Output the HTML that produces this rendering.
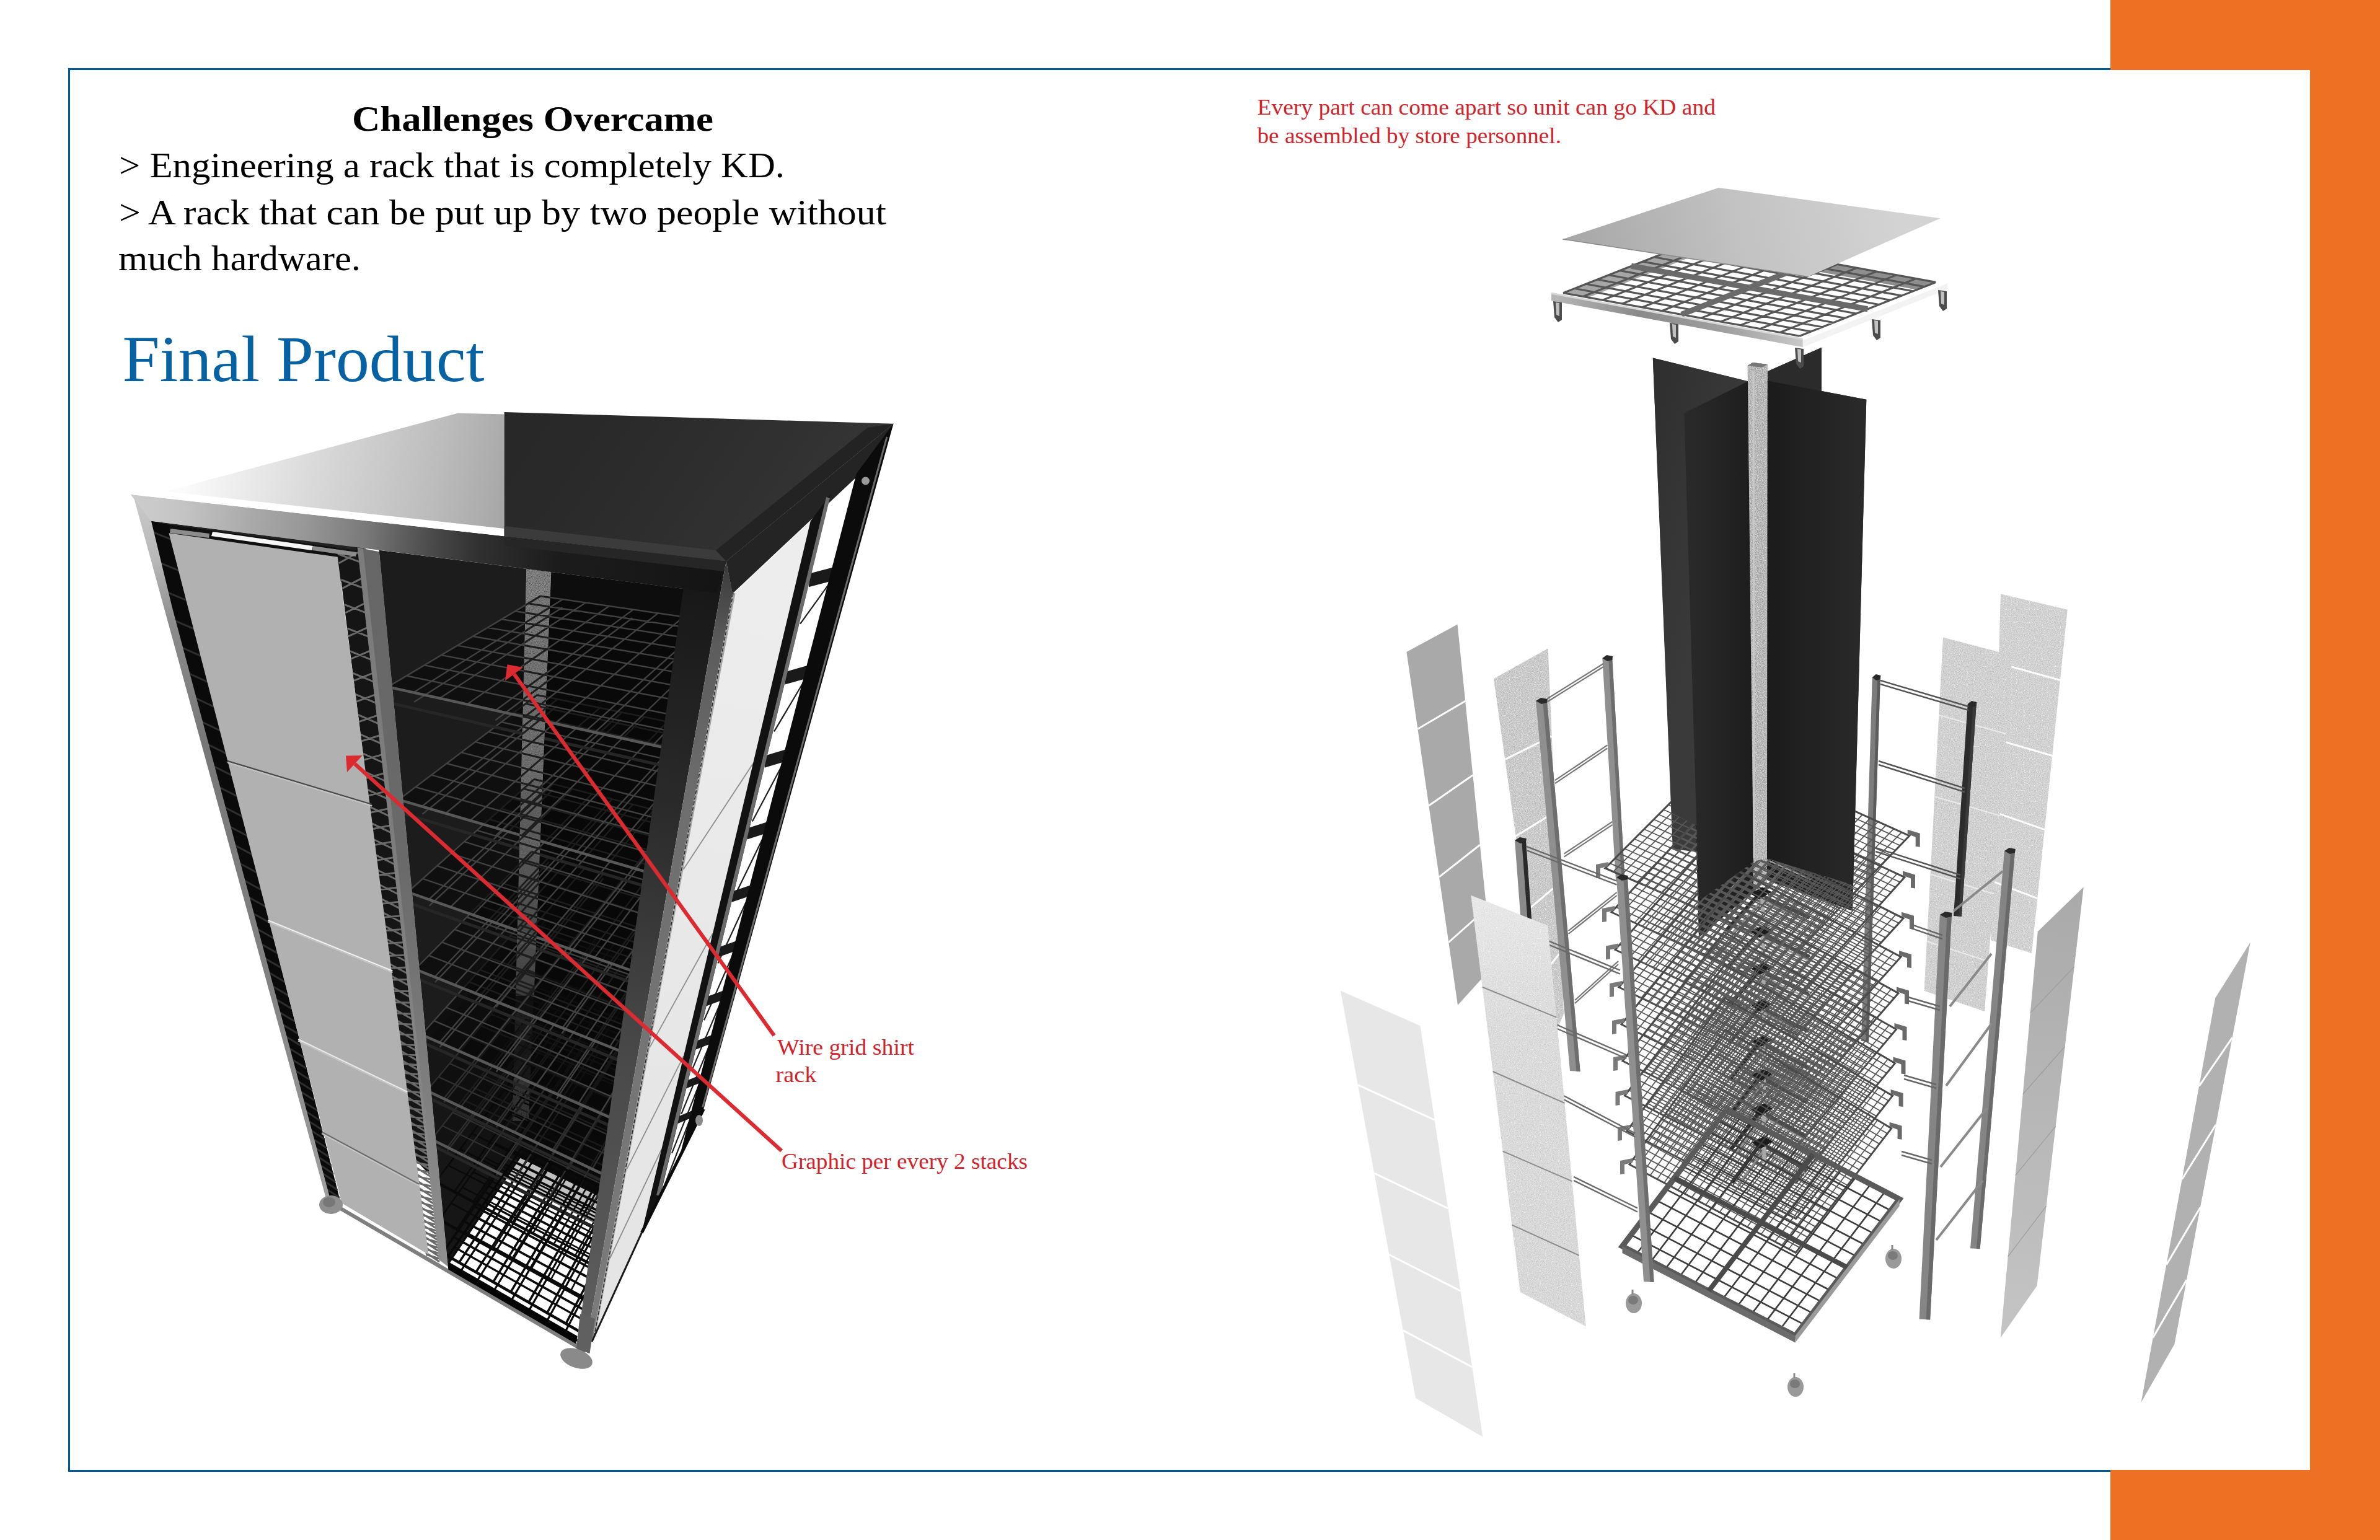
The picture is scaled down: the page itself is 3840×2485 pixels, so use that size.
<!DOCTYPE html>
<html><head><meta charset="utf-8"><title>Final Product</title>
<style>
html,body{margin:0;padding:0;background:#fff;}
body{width:3840px;height:2485px;position:relative;overflow:hidden;font-family:"Liberation Serif",serif;}
#frame{position:absolute;left:110px;top:110px;width:3400px;height:2259px;border:3px solid #005a96;box-sizing:content-box;}
#band{position:absolute;left:3405px;top:0;width:435px;height:2485px;background:#ee7023;}
#panel{position:absolute;left:3405px;top:113px;width:322px;height:2259px;background:#fff;}
svg{position:absolute;left:0;top:0;}
text{font-family:"Liberation Serif",serif;}
</style></head><body>
<div id="frame"></div><div id="band"></div><div id="panel"></div>
<svg width="3840" height="2485" viewBox="0 0 3840 2485">
<defs>
<linearGradient id="gTopL" gradientUnits="userSpaceOnUse" x1="300" y1="760" x2="820" y2="860">
 <stop offset="0" stop-color="#fbfbfb"/><stop offset="0.35" stop-color="#dcdcdc"/><stop offset="0.75" stop-color="#bcbcbc"/><stop offset="1" stop-color="#a4a4a4"/></linearGradient>
<linearGradient id="gTopD" gradientUnits="userSpaceOnUse" x1="900" y1="660" x2="1250" y2="900">
 <stop offset="0" stop-color="#282828"/><stop offset="0.6" stop-color="#2e2e2e"/><stop offset="1" stop-color="#343434"/></linearGradient>
<linearGradient id="gBar" gradientUnits="userSpaceOnUse" x1="211" y1="800" x2="1171" y2="905">
 <stop offset="0" stop-color="#cdcdcd"/><stop offset="0.09" stop-color="#c4c4c4"/><stop offset="0.2" stop-color="#aaaaaa"/><stop offset="0.3" stop-color="#969696"/><stop offset="0.395" stop-color="#7a7a7a"/><stop offset="0.45" stop-color="#626262"/><stop offset="0.51" stop-color="#4a4a4a"/><stop offset="0.59" stop-color="#303030"/><stop offset="0.72" stop-color="#1c1c1c"/><stop offset="1" stop-color="#141414"/></linearGradient>
<linearGradient id="gLpost" gradientUnits="userSpaceOnUse" x1="220" y1="800" x2="530" y2="1940">
 <stop offset="0" stop-color="#cacaca"/><stop offset="0.09" stop-color="#b8b8b8"/><stop offset="0.18" stop-color="#8c8c8c"/><stop offset="0.35" stop-color="#777"/><stop offset="0.7" stop-color="#828282"/><stop offset="1" stop-color="#a0a0a0"/></linearGradient>
<linearGradient id="gMpost" gradientUnits="userSpaceOnUse" x1="590" y1="880" x2="715" y2="2040">
 <stop offset="0" stop-color="#666"/><stop offset="0.45" stop-color="#6a6a6a"/><stop offset="0.75" stop-color="#7e7e7e"/><stop offset="1" stop-color="#909090"/></linearGradient>
<linearGradient id="gCpost" gradientUnits="userSpaceOnUse" x1="1140" y1="920" x2="940" y2="2180">
 <stop offset="0" stop-color="#161616"/><stop offset="0.3" stop-color="#2a2a2a"/><stop offset="0.6" stop-color="#474747"/><stop offset="1" stop-color="#606060"/></linearGradient>
<linearGradient id="gCside" gradientUnits="userSpaceOnUse" x1="1175" y1="910" x2="955" y2="2180"><stop offset="0" stop-color="#3a3a3a"/><stop offset="0.1" stop-color="#5c5c5c"/><stop offset="0.3" stop-color="#6e6e6e"/><stop offset="1" stop-color="#7c7c7c"/></linearGradient>
<linearGradient id="gInt" gradientUnits="userSpaceOnUse" x1="850" y1="900" x2="820" y2="2100">
 <stop offset="0" stop-color="#121212"/><stop offset="0.5" stop-color="#0c0c0c"/><stop offset="1" stop-color="#080808"/></linearGradient>
<linearGradient id="gRpan" gradientUnits="userSpaceOnUse" x1="1250" y1="900" x2="1000" y2="2100">
 <stop offset="0" stop-color="#ededed"/><stop offset="1" stop-color="#e4e4e4"/></linearGradient>
</defs>
<defs><filter id="spk2" x="0" y="0" width="100%" height="100%"><feTurbulence type="fractalNoise" baseFrequency="0.7" numOctaves="1" seed="7" result="n"/>
 <feColorMatrix in="n" type="matrix" values="0 0 0 0 0  0 0 0 0 0  0 0 0 0 0  2.2 0 0 0 -0.9" result="w"/>
 <feComposite in="w" in2="SourceGraphic" operator="in" result="ww"/>
 <feMerge><feMergeNode in="SourceGraphic"/><feMergeNode in="ww"/></feMerge></filter></defs>
<g id="leftrack">
<polygon points="1306.8,925.3 1345.1,915.3 1343.1,937.3 1304.8,947.3" fill="#1a1a1a" />
<line x1="1341.1" y1="937.3" x2="1291.1" y2="1006.6" stroke="#202020" stroke-width="2.2" />
<polygon points="1268.4,1083.6 1304.1,1073.6 1302.1,1094.5 1266.4,1104.5" fill="#1a1a1a" />
<line x1="1300.1" y1="1094.5" x2="1249" y2="1180.4" stroke="#202020" stroke-width="2.2" />
<polygon points="1235.6,1218.9 1269.1,1208.9 1267.1,1228.7 1233.6,1238.7" fill="#1a1a1a" />
<line x1="1265.1" y1="1228.7" x2="1213.8" y2="1325.6" stroke="#202020" stroke-width="2.2" />
<polygon points="1207.3,1335.9 1238.8,1325.9 1236.8,1344.6 1205.3,1354.6" fill="#1a1a1a" />
<line x1="1234.8" y1="1344.6" x2="1183.9" y2="1448.7" stroke="#202020" stroke-width="2.2" />
<polygon points="1182.5,1438.1 1212.3,1428.1 1210.3,1445.7 1180.5,1455.7" fill="#1a1a1a" />
<line x1="1208.3" y1="1445.7" x2="1158.3" y2="1554.4" stroke="#202020" stroke-width="2.2" />
<polygon points="1160.7,1528.1 1189,1518.1 1187,1534.6 1158.7,1544.6" fill="#1a1a1a" />
<line x1="1185" y1="1534.6" x2="1136" y2="1646.2" stroke="#202020" stroke-width="2.2" />
<polygon points="1141.3,1608 1168.4,1598 1166.4,1613.4 1139.3,1623.4" fill="#1a1a1a" />
<line x1="1164.4" y1="1613.4" x2="1116.5" y2="1726.6" stroke="#202020" stroke-width="2.2" />
<polygon points="1124,1679.4 1149.9,1669.4 1147.9,1683.7 1122,1693.7" fill="#1a1a1a" />
<line x1="1145.9" y1="1683.7" x2="1099.3" y2="1797.6" stroke="#202020" stroke-width="2.2" />
<polygon points="1108.4,1743.5 1133.3,1733.5 1131.3,1746.7 1106.4,1756.7" fill="#1a1a1a" />
<line x1="1129.3" y1="1746.7" x2="1084" y2="1860.8" stroke="#202020" stroke-width="2.2" />
<polygon points="1094.4,1801.5 1118.3,1791.5 1116.3,1803.6 1092.4,1813.6" fill="#1a1a1a" />
<line x1="1114.3" y1="1803.6" x2="1070.3" y2="1917.4" stroke="#202020" stroke-width="2.2" />
<clipPath id="cpOpen"><polygon points="611.7,887.9 1111.1,951.2 931.1,2168.3 723.2,2047.5"/></clipPath>
<polygon points="611.7,887.9 1111.1,951.2 931.1,2168.3 723.2,2047.5" fill="#0b0b0b" />
<g clip-path="url(#cpOpen)">
<polygon points="717,2051.2 939.1,2180.9 1045.9,1966.8 840.7,1866.9" fill="#ffffff" />
<polygon points="879.9,737.6 1343.6,766 1047.2,1961.4 840.9,1861.4" fill="#0d0d0d" />
<polygon points="599.9,839.5 879.9,737.6 840.9,1861.4 716.5,2046" fill="#1c1c1c" />
<polygon points="682.1,1690.1 853.6,1496.3 840.9,1861.4 716.5,2046" fill="#121212" opacity="0.6"/>
<polygon points="853.9,737.6 896.9,737.6 852.8,1808.8 826.8,1808.8" fill="#8a8a8a" filter="url(#spk2)"/>
<path d="M714.1 2022L841.8 1835.7M714.1 2022L943.9 2153.6M740.7 2037.2L866.6 1847.4M731.9 1996.1L959.3 2123.2M767.9 2052.8L891.7 1859.4M749 1971L974.1 2093.7M795.7 2068.7L917.4 1871.6M765.7 1946.7L988.4 2065.3M824 2084.9L943.6 1884.1M781.8 1923.2L1002.3 2037.8M853 2101.5L970.3 1896.7M797.5 1900.3L1015.7 2011.2M882.7 2118.5L997.4 1909.6M812.7 1878.2L1028.7 1985.4M913 2135.9L1025.2 1922.8M827.5 1856.6L1041.3 1960.5M943.9 2153.6L1053.4 1936.3M841.8 1835.7L1053.4 1936.3" stroke="#0a0a0a" stroke-width="3.6" fill="none"/>
<line x1="714.1" y1="2022" x2="943.9" y2="2153.6" stroke="#0a0a0a" stroke-width="4.5" />
<path d="M708.9 1968L843.8 1778.6M708.9 1968L953 2102.8M737 1983.5L869.8 1790.4M727.8 1941.5L969.1 2071.4M765.8 1999.4L896.4 1802.4M746 1915.9L984.7 2041.1M795.2 2015.7L923.5 1814.7M763.6 1891.2L999.7 2011.9M825.3 2032.3L951.1 1827.2M780.7 1867.2L1014.2 1983.6M856.1 2049.3L979.3 1840M797.2 1844L1028.2 1956.4M887.6 2066.7L1008.1 1853.1M813.2 1821.5L1041.7 1930.1M919.9 2084.6L1037.4 1866.4M828.7 1799.7L1054.8 1904.6M953 2102.8L1067.4 1880M843.8 1778.6L1067.4 1880" stroke="#0a0a0a" stroke-width="2.6" fill="none"/>
<line x1="708.9" y1="1968" x2="953" y2="2102.8" stroke="#0a0a0a" stroke-width="4.5" />
<path d="M703.1 1907.3L846 1715.3M703.1 1907.3L963.2 2045.1M732.9 1923.1L873.5 1727.1M723.1 1880.3L980.2 2012.7M763.4 1939.2L901.5 1739.1M742.5 1854.2L996.6 1981.5M794.7 1955.8L930.2 1751.4M761.3 1829.1L1012.4 1951.5M826.7 1972.8L959.5 1764M779.4 1804.8L1027.5 1922.6M859.6 1990.2L989.3 1776.8M796.8 1781.3L1042.2 1894.8M893.3 2008L1019.9 1789.9M813.8 1758.6L1056.3 1867.9M927.8 2026.3L1051.1 1803.3M830.1 1736.6L1069.9 1842M963.2 2045.1L1083 1817M846 1715.3L1083 1817" stroke="#0a0a0a" stroke-width="2.6" fill="none"/>
<line x1="703.1" y1="1907.3" x2="963.2" y2="2045.1" stroke="#0a0a0a" stroke-width="4.5" />
<polygon points="696.4,1838.5 975,1978.9 1100.6,1746.2 848.4,1644.7" fill="#080808" opacity="0.25"/>
<path d="M696.4 1838.5L848.4 1644.7M696.4 1838.5L975 1978.9M721.7 1851.3L871.7 1654.1M713.7 1816.5L989.4 1952.1M747.6 1864.3L895.3 1663.6M730.5 1795.1L1003.4 1926.2M774 1877.6L919.4 1673.3M746.7 1774.4L1017 1901.1M800.9 1891.2L943.9 1683.1M762.5 1754.2L1030.1 1876.8M828.4 1905L968.8 1693.2M777.9 1734.7L1042.7 1853.3M856.5 1919.2L994.2 1703.4M792.8 1715.6L1055 1830.6M885.1 1933.6L1020.1 1713.8M807.3 1697.2L1066.9 1808.5M914.4 1948.4L1046.4 1724.4M821.4 1679.2L1078.5 1787.1M944.4 1963.5L1073.2 1735.2M835.1 1661.7L1089.7 1766.3M975 1978.9L1100.6 1746.2M848.4 1644.7L1100.6 1746.2M722.1 1856.8L871.4 1659.7M800.9 1896.6L943.3 1688.7M884.7 1939L1019.1 1719.4" stroke="#2e2e2e" stroke-width="2.4" fill="none"/>
<line x1="696.4" y1="1838.5" x2="975" y2="1978.9" stroke="#585858" stroke-width="4.5" />
<line x1="697.3" y1="1847.9" x2="973.4" y2="1988" stroke="#262626" stroke-width="5" />
<polygon points="688.8,1760 988.6,1902.1 1120.5,1665.8 851.2,1565.5" fill="#080808" opacity="0.5"/>
<path d="M688.8 1760L851.2 1565.5M688.8 1760L988.6 1902.1M715.9 1772.8L875.9 1574.7M707.4 1737.7L1004 1874.6M743.5 1785.9L901 1584.1M725.5 1716.1L1018.8 1848.1M771.8 1799.3L926.7 1593.6M742.9 1695.2L1033 1822.5M800.7 1813L952.8 1603.4M759.8 1675L1046.8 1797.8M830.3 1827L979.4 1613.3M776.2 1655.3L1060.2 1774M860.5 1841.4L1006.5 1623.4M792.1 1636.3L1073 1750.9M891.4 1856L1034.2 1633.7M807.5 1617.8L1085.5 1728.6M923.1 1871L1062.4 1644.2M822.5 1599.9L1097.5 1707M955.4 1886.4L1091.1 1654.9M837.1 1582.5L1109.2 1686.1M988.6 1902.1L1120.5 1665.8M851.2 1565.5L1120.5 1665.8M716.4 1779.1L875.5 1581M800.7 1819.3L952.1 1609.7M890.9 1862.3L1033 1640.1" stroke="#2e2e2e" stroke-width="2.4" fill="none"/>
<line x1="688.8" y1="1760" x2="988.6" y2="1902.1" stroke="#585858" stroke-width="4.5" />
<line x1="689.9" y1="1770.7" x2="986.7" y2="1912.7" stroke="#262626" stroke-width="5" />
<polygon points="680.1,1669.5 1004.6,1812.1 1143.3,1573.9 854.3,1476.1" fill="#080808" opacity="0.62"/>
<path d="M680.1 1669.5L854.3 1476.1M680.1 1669.5L1004.6 1812.1M709.1 1682.3L880.6 1485M700.2 1647.1L1020.9 1784.1M738.9 1695.3L907.5 1494.1M719.7 1625.5L1036.6 1757.1M769.3 1708.7L934.9 1503.4M738.5 1604.6L1051.7 1731.2M800.5 1722.4L962.8 1512.9M756.7 1584.4L1066.3 1706.2M832.4 1736.5L991.4 1522.5M774.3 1564.9L1080.3 1682.1M865.2 1750.8L1020.5 1532.4M791.3 1546L1093.8 1658.9M898.7 1765.6L1050.2 1542.4M807.8 1527.7L1106.8 1636.6M933.1 1780.7L1080.6 1552.7M823.8 1510L1119.4 1615M968.4 1796.2L1111.6 1563.2M839.3 1492.8L1131.5 1594.1M1004.6 1812.1L1143.3 1573.9M854.3 1476.1L1143.3 1573.9M709.7 1689.6L880.3 1492.2M800.5 1729.7L962 1520.1M898.1 1772.9L1048.9 1549.7" stroke="#414141" stroke-width="2.4" fill="none"/>
<line x1="680.1" y1="1669.5" x2="1004.6" y2="1812.1" stroke="#585858" stroke-width="4.5" />
<line x1="681.3" y1="1681.9" x2="1002.4" y2="1824.6" stroke="#262626" stroke-width="5" />
<polygon points="669.9,1564 1023.6,1705.1 1169.6,1467.8 857.8,1374.3" fill="#080808" opacity="0.62"/>
<path d="M669.9 1564L857.8 1374.3M669.9 1564L1023.6 1705.1M701.2 1576.5L886 1382.8M691.9 1541.8L1041 1676.8M733.4 1589.4L914.9 1391.4M713.1 1520.4L1057.7 1649.6M766.4 1602.5L944.3 1400.2M733.5 1499.8L1073.7 1623.6M800.3 1616L974.4 1409.3M753.1 1480L1089.1 1598.7M835 1629.9L1005.1 1418.5M772.1 1460.8L1103.8 1574.7M870.7 1644.1L1036.6 1427.9M790.5 1442.3L1118 1551.7M907.4 1658.7L1068.7 1437.6M808.2 1424.4L1131.7 1529.5M945 1673.8L1101.6 1447.4M825.3 1407.2L1144.8 1508.2M983.8 1689.2L1135.2 1457.5M841.8 1390.5L1157.4 1487.6M1023.6 1705.1L1169.6 1467.8M857.8 1374.3L1169.6 1467.8M701.9 1585.1L885.6 1391M800.3 1624.7L973.5 1417.6M906.7 1667.5L1067.2 1446" stroke="#414141" stroke-width="2.4" fill="none"/>
<line x1="669.9" y1="1564" x2="1023.6" y2="1705.1" stroke="#585858" stroke-width="4.5" />
<line x1="671.3" y1="1578.6" x2="1021" y2="1720" stroke="#262626" stroke-width="5" />
<polygon points="657.9,1439.5 1046.6,1575.8 1200.3,1343.9 861.9,1257.3" fill="#080808" opacity="0.62"/>
<path d="M657.9 1439.5L861.9 1257.3M657.9 1439.5L1046.6 1575.8M691.9 1451.5L892.3 1265.1M682 1417.9L1065.3 1547.6M726.9 1463.7L923.4 1273M705.3 1397.2L1083 1520.8M762.9 1476.4L955.2 1281.2M727.5 1377.3L1100 1495.2M800 1489.3L987.7 1289.5M749 1358.2L1116.3 1470.7M838.1 1502.7L1021.1 1298M769.6 1339.8L1131.8 1447.3M877.3 1516.4L1055.2 1306.8M789.4 1322L1146.7 1424.8M917.7 1530.6L1090.1 1315.7M808.5 1305L1160.9 1403.3M959.4 1545.2L1126 1324.9M827 1288.5L1174.6 1382.7M1002.3 1560.3L1162.7 1334.3M844.7 1272.6L1187.7 1362.9M1046.6 1575.8L1200.3 1343.9M861.9 1257.3L1200.3 1343.9M692.7 1461.7L891.8 1274.6M800 1499.7L986.6 1299.2M916.9 1541.1L1088.4 1325.6" stroke="#414141" stroke-width="2.4" fill="none"/>
<line x1="657.9" y1="1439.5" x2="1046.6" y2="1575.8" stroke="#585858" stroke-width="4.5" />
<line x1="659.5" y1="1456.8" x2="1043.4" y2="1594" stroke="#262626" stroke-width="5" />
<polygon points="643.4,1290.4 1074.9,1416.3 1236.7,1197.3 866.6,1121.5" fill="#080808" opacity="0.62"/>
<path d="M643.4 1290.4L866.6 1121.5M643.4 1290.4L1074.9 1416.3M680.7 1301.2L899.5 1128.2M670.3 1270L1094.9 1389.2M719.1 1312.5L933.3 1135.2M696 1250.6L1113.9 1363.5M758.7 1324L967.9 1142.2M720.5 1232L1132 1339.1M799.6 1336L1003.3 1149.5M744 1214.2L1149.1 1315.8M841.8 1348.3L1039.7 1156.9M766.6 1197.2L1165.5 1293.7M885.4 1361L1077 1164.6M788.2 1180.8L1181 1272.6M930.4 1374.1L1115.4 1172.4M809 1165.1L1195.9 1252.5M976.9 1387.7L1154.7 1180.5M828.9 1150L1210.1 1233.3M1025.1 1401.8L1195.1 1188.8M848.1 1135.5L1223.7 1214.9M1074.9 1416.3L1236.7 1197.3M866.6 1121.5L1236.7 1197.3M681.6 1313.6L898.9 1139.3M799.6 1348.6L1002.1 1160.9M929.3 1387.1L1113.3 1184.1" stroke="#414141" stroke-width="2.4" fill="none"/>
<line x1="643.4" y1="1290.4" x2="1074.9" y2="1416.3" stroke="#585858" stroke-width="4.5" />
<line x1="645.5" y1="1311.3" x2="1070.9" y2="1439" stroke="#262626" stroke-width="5" />
<polygon points="625.9,1108.4 1110.7,1214.9 1280.4,1021.1 872.1,961.9" fill="#080808" opacity="0.62"/>
<path d="M625.9 1108.4L872.1 961.9M625.9 1108.4L1110.7 1214.9M667 1117.4L908.1 967.1M656 1090.5L1132.2 1190.3M709.5 1126.8L944.9 972.5M684.7 1073.4L1152.5 1167.1M753.6 1136.4L982.8 978M712.1 1057.1L1171.6 1145.3M799.2 1146.5L1021.8 983.6M738.1 1041.6L1189.7 1124.6M846.4 1156.8L1061.9 989.4M763 1026.8L1206.8 1105.1M895.4 1167.6L1103 995.4M786.8 1012.7L1223.1 1086.5M946.2 1178.7L1145.4 1001.5M809.5 999.2L1238.5 1068.9M998.9 1190.3L1189.1 1007.9M831.3 986.2L1253.1 1052.2M1053.7 1202.4L1234 1014.4M852.1 973.8L1267.1 1036.3M1110.7 1214.9L1280.4 1021.1M872.1 961.9L1280.4 1021.1M668.1 1132.7L907.4 980.2M799.2 1162.3L1020.3 997.2M944.9 1195.1L1143 1015.5" stroke="#414141" stroke-width="2.4" fill="none"/>
<line x1="625.9" y1="1108.4" x2="1110.7" y2="1214.9" stroke="#585858" stroke-width="4.5" />
<line x1="628.3" y1="1134.1" x2="1105.6" y2="1243.8" stroke="#262626" stroke-width="5" />
<path d="M715.7 2038.1L841.2 1852.9M715.7 2038.1L941.3 2168.7M741.9 2053.3L865.6 1864.7M733.1 2012.5L956.4 2138.6M768.6 2068.7L890.3 1876.6M750 1987.6L971 2109.4M795.8 2084.5L915.6 1888.8M766.3 1963.4L985.1 2081.3M823.7 2100.6L941.3 1901.2M782.2 1940L998.7 2054M852.1 2117.1L967.5 1913.8M797.6 1917.3L1012 2027.6M881.2 2133.9L994.3 1926.7M812.6 1895.2L1024.8 2002M910.9 2151.1L1021.5 1939.8M827.1 1873.8L1037.2 1977.2M941.3 2168.7L1049.3 1953.2M841.2 1852.9L1049.3 1953.2" stroke="#080808" stroke-width="3.2" fill="none"/>
<clipPath id="cpPost"><polygon points="853.9,737.6 896.9,737.6 861.8,1606.7 831.8,1606.7"/></clipPath>
<g clip-path="url(#cpPost)">
<linearGradient id="gPostO" gradientUnits="userSpaceOnUse" x1="860" y1="900" x2="850" y2="1800"><stop offset="0" stop-color="#8a8a8a" stop-opacity="0.9"/><stop offset="0.35" stop-color="#8a8a8a" stop-opacity="0.75"/><stop offset="0.75" stop-color="#808080" stop-opacity="0.45"/><stop offset="1" stop-color="#707070" stop-opacity="0.15"/></linearGradient>
<polygon points="853.9,737.6 896.9,737.6 861.8,1606.7 831.8,1606.7" fill="url(#gPostO)" filter="url(#spk2)"/>
<path d="M696.4 1838.5L848.4 1644.7M696.4 1838.5L975 1978.9M721.7 1851.3L871.7 1654.1M713.7 1816.5L989.4 1952.1M747.6 1864.3L895.3 1663.6M730.5 1795.1L1003.4 1926.2M774 1877.6L919.4 1673.3M746.7 1774.4L1017 1901.1M800.9 1891.2L943.9 1683.1M762.5 1754.2L1030.1 1876.8M828.4 1905L968.8 1693.2M777.9 1734.7L1042.7 1853.3M856.5 1919.2L994.2 1703.4M792.8 1715.6L1055 1830.6M885.1 1933.6L1020.1 1713.8M807.3 1697.2L1066.9 1808.5M914.4 1948.4L1046.4 1724.4M821.4 1679.2L1078.5 1787.1M944.4 1963.5L1073.2 1735.2M835.1 1661.7L1089.7 1766.3M975 1978.9L1100.6 1746.2M848.4 1644.7L1100.6 1746.2M722.1 1856.8L871.4 1659.7M800.9 1896.6L943.3 1688.7M884.7 1939L1019.1 1719.4" stroke="#1e1e1e" stroke-width="3" fill="none"/>
<path d="M688.8 1760L851.2 1565.5M688.8 1760L988.6 1902.1M715.9 1772.8L875.9 1574.7M707.4 1737.7L1004 1874.6M743.5 1785.9L901 1584.1M725.5 1716.1L1018.8 1848.1M771.8 1799.3L926.7 1593.6M742.9 1695.2L1033 1822.5M800.7 1813L952.8 1603.4M759.8 1675L1046.8 1797.8M830.3 1827L979.4 1613.3M776.2 1655.3L1060.2 1774M860.5 1841.4L1006.5 1623.4M792.1 1636.3L1073 1750.9M891.4 1856L1034.2 1633.7M807.5 1617.8L1085.5 1728.6M923.1 1871L1062.4 1644.2M822.5 1599.9L1097.5 1707M955.4 1886.4L1091.1 1654.9M837.1 1582.5L1109.2 1686.1M988.6 1902.1L1120.5 1665.8M851.2 1565.5L1120.5 1665.8M716.4 1779.1L875.5 1581M800.7 1819.3L952.1 1609.7M890.9 1862.3L1033 1640.1" stroke="#1e1e1e" stroke-width="3" fill="none"/>
<path d="M680.1 1669.5L854.3 1476.1M680.1 1669.5L1004.6 1812.1M709.1 1682.3L880.6 1485M700.2 1647.1L1020.9 1784.1M738.9 1695.3L907.5 1494.1M719.7 1625.5L1036.6 1757.1M769.3 1708.7L934.9 1503.4M738.5 1604.6L1051.7 1731.2M800.5 1722.4L962.8 1512.9M756.7 1584.4L1066.3 1706.2M832.4 1736.5L991.4 1522.5M774.3 1564.9L1080.3 1682.1M865.2 1750.8L1020.5 1532.4M791.3 1546L1093.8 1658.9M898.7 1765.6L1050.2 1542.4M807.8 1527.7L1106.8 1636.6M933.1 1780.7L1080.6 1552.7M823.8 1510L1119.4 1615M968.4 1796.2L1111.6 1563.2M839.3 1492.8L1131.5 1594.1M1004.6 1812.1L1143.3 1573.9M854.3 1476.1L1143.3 1573.9M709.7 1689.6L880.3 1492.2M800.5 1729.7L962 1520.1M898.1 1772.9L1048.9 1549.7" stroke="#1e1e1e" stroke-width="3" fill="none"/>
<path d="M669.9 1564L857.8 1374.3M669.9 1564L1023.6 1705.1M701.2 1576.5L886 1382.8M691.9 1541.8L1041 1676.8M733.4 1589.4L914.9 1391.4M713.1 1520.4L1057.7 1649.6M766.4 1602.5L944.3 1400.2M733.5 1499.8L1073.7 1623.6M800.3 1616L974.4 1409.3M753.1 1480L1089.1 1598.7M835 1629.9L1005.1 1418.5M772.1 1460.8L1103.8 1574.7M870.7 1644.1L1036.6 1427.9M790.5 1442.3L1118 1551.7M907.4 1658.7L1068.7 1437.6M808.2 1424.4L1131.7 1529.5M945 1673.8L1101.6 1447.4M825.3 1407.2L1144.8 1508.2M983.8 1689.2L1135.2 1457.5M841.8 1390.5L1157.4 1487.6M1023.6 1705.1L1169.6 1467.8M857.8 1374.3L1169.6 1467.8M701.9 1585.1L885.6 1391M800.3 1624.7L973.5 1417.6M906.7 1667.5L1067.2 1446" stroke="#1e1e1e" stroke-width="3" fill="none"/>
<path d="M657.9 1439.5L861.9 1257.3M657.9 1439.5L1046.6 1575.8M691.9 1451.5L892.3 1265.1M682 1417.9L1065.3 1547.6M726.9 1463.7L923.4 1273M705.3 1397.2L1083 1520.8M762.9 1476.4L955.2 1281.2M727.5 1377.3L1100 1495.2M800 1489.3L987.7 1289.5M749 1358.2L1116.3 1470.7M838.1 1502.7L1021.1 1298M769.6 1339.8L1131.8 1447.3M877.3 1516.4L1055.2 1306.8M789.4 1322L1146.7 1424.8M917.7 1530.6L1090.1 1315.7M808.5 1305L1160.9 1403.3M959.4 1545.2L1126 1324.9M827 1288.5L1174.6 1382.7M1002.3 1560.3L1162.7 1334.3M844.7 1272.6L1187.7 1362.9M1046.6 1575.8L1200.3 1343.9M861.9 1257.3L1200.3 1343.9M692.7 1461.7L891.8 1274.6M800 1499.7L986.6 1299.2M916.9 1541.1L1088.4 1325.6" stroke="#1e1e1e" stroke-width="3" fill="none"/>
<path d="M643.4 1290.4L866.6 1121.5M643.4 1290.4L1074.9 1416.3M680.7 1301.2L899.5 1128.2M670.3 1270L1094.9 1389.2M719.1 1312.5L933.3 1135.2M696 1250.6L1113.9 1363.5M758.7 1324L967.9 1142.2M720.5 1232L1132 1339.1M799.6 1336L1003.3 1149.5M744 1214.2L1149.1 1315.8M841.8 1348.3L1039.7 1156.9M766.6 1197.2L1165.5 1293.7M885.4 1361L1077 1164.6M788.2 1180.8L1181 1272.6M930.4 1374.1L1115.4 1172.4M809 1165.1L1195.9 1252.5M976.9 1387.7L1154.7 1180.5M828.9 1150L1210.1 1233.3M1025.1 1401.8L1195.1 1188.8M848.1 1135.5L1223.7 1214.9M1074.9 1416.3L1236.7 1197.3M866.6 1121.5L1236.7 1197.3M681.6 1313.6L898.9 1139.3M799.6 1348.6L1002.1 1160.9M929.3 1387.1L1113.3 1184.1" stroke="#1e1e1e" stroke-width="3" fill="none"/>
<path d="M625.9 1108.4L872.1 961.9M625.9 1108.4L1110.7 1214.9M667 1117.4L908.1 967.1M656 1090.5L1132.2 1190.3M709.5 1126.8L944.9 972.5M684.7 1073.4L1152.5 1167.1M753.6 1136.4L982.8 978M712.1 1057.1L1171.6 1145.3M799.2 1146.5L1021.8 983.6M738.1 1041.6L1189.7 1124.6M846.4 1156.8L1061.9 989.4M763 1026.8L1206.8 1105.1M895.4 1167.6L1103 995.4M786.8 1012.7L1223.1 1086.5M946.2 1178.7L1145.4 1001.5M809.5 999.2L1238.5 1068.9M998.9 1190.3L1189.1 1007.9M831.3 986.2L1253.1 1052.2M1053.7 1202.4L1234 1014.4M852.1 973.8L1267.1 1036.3M1110.7 1214.9L1280.4 1021.1M872.1 961.9L1280.4 1021.1M668.1 1132.7L907.4 980.2M799.2 1162.3L1020.3 997.2M944.9 1195.1L1143 1015.5" stroke="#1e1e1e" stroke-width="3" fill="none"/>
</g>
</g>
<polygon points="242.2,835.2 588.7,879.5 595.6,945.5 257.6,893.2" fill="#101010" />
<polygon points="238.3,839.3 272.5,843.8 552.1,1950.4 533.5,1939.6" fill="#0a0a0a" />
<path d="M243.2 857.5L279.6 871.6M256.6 907.7L292.3 922.1M269.5 955.6L304.4 970.1M281.7 1001.3L316 1016M293.5 1044.9L327.1 1059.8M304.6 1086.6L337.6 1101.6M315.4 1126.5L347.8 1141.6M325.6 1164.8L357.4 1179.9M335.5 1201.4L366.7 1216.6M344.9 1236.6L375.6 1251.8M354 1270.4L384.1 1285.6M362.7 1302.9L392.3 1318.1M371.1 1334.1L400.2 1349.4M379.1 1364.2L407.8 1379.4M386.9 1393.2L415.1 1408.4M394.4 1421.1L422.2 1436.3M401.6 1448L429 1463.2M408.6 1474.1L435.5 1489.1M415.4 1499.2L441.9 1514.2M421.9 1523.5L448 1538.4M428.2 1546.9L453.9 1561.8M434.3 1569.6L459.6 1584.5M440.2 1591.6L465.2 1606.4M445.9 1612.9L470.5 1627.6M451.4 1633.6L475.7 1648.2M456.8 1653.6L480.8 1668.1M462 1673L485.6 1687.4M467 1691.8L490.4 1706.2M471.9 1710.1L495 1724.4M476.7 1727.8L499.4 1742M481.3 1745.1L503.8 1759.2M485.8 1761.8L508 1775.9M490.2 1778.2L512.1 1792.1M494.5 1794L516.1 1807.9M498.6 1809.5L519.9 1823.2M502.6 1824.5L523.7 1838.2M506.6 1839.1L527.4 1852.7M510.4 1853.4L531 1866.9M514.1 1867.3L534.5 1880.7M517.8 1880.8L537.9 1894.2M521.3 1894L541.2 1907.3M524.8 1906.9L544.4 1920.1M528.1 1919.5L547.6 1932.6M531.4 1931.8L550.6 1944.8" stroke="#2e2e2e" stroke-width="3" fill="none"/>
<polygon points="543.1,879 589.3,885 709.2,2039.4 687.7,2026.9" fill="#151515" />
<polygon points="667.9,1869.4 694.4,1896.7 709.2,2039.4 687.7,2026.9" fill="#ffffff" />
<path d="M546.9 908.7L589.3 885M545 893.9L592 910.8M552 949.6L593.7 927.8M550.3 935.5L596.3 952.6M557 989L598 968.9M555.3 975.4L600.5 992.7M561.8 1026.8L602.1 1008.4M560.1 1013.8L604.5 1031.2M566.3 1063.2L606 1046.3M564.8 1050.7L608.3 1068.3M570.8 1098.3L609.8 1082.8M569.2 1086.2L612 1103.9M575 1132.1L613.5 1117.9M573.5 1120.4L615.6 1138.2M579.1 1164.6L617 1151.7M577.7 1153.4L619 1171.3M583.1 1196L620.4 1184.2M581.7 1185.2L622.3 1203.1M586.9 1226.3L623.6 1215.6M585.6 1215.8L625.5 1233.9M590.6 1255.6L626.8 1245.9M589.3 1245.5L628.6 1263.5M594.1 1283.9L629.8 1275.2M592.9 1274.1L631.6 1292.2M597.6 1311.3L632.8 1303.4M596.4 1301.8L634.5 1319.9M600.9 1337.8L635.6 1330.8M599.8 1328.6L637.3 1346.7M604.1 1363.4L638.3 1357.2M603 1354.5L639.9 1372.6M607.3 1388.2L641 1382.8M606.2 1379.6L642.6 1397.7M610.3 1412.3L643.6 1407.6M609.3 1404L645.1 1422M613.2 1435.6L646.1 1431.5M612.2 1427.5L647.5 1445.5M616.1 1458.3L648.5 1454.8M615.1 1450.4L649.9 1468.4M618.9 1480.2L650.8 1477.4M617.9 1472.6L652.2 1490.5M621.5 1501.6L653.1 1499.2M620.6 1494.2L654.4 1512M624.2 1522.3L655.3 1520.5M623.2 1515.1L656.6 1532.9M626.7 1542.4L657.5 1541.1M625.8 1535.4L658.7 1553.2M629.2 1562L659.5 1561.1M628.3 1555.2L660.8 1572.8M631.5 1581L661.6 1580.6M630.7 1574.4L662.7 1592M633.9 1599.5L663.5 1599.5M633.1 1593.1L664.7 1610.6M636.1 1617.5L665.4 1618M635.4 1611.3L666.6 1628.7M638.4 1635L667.3 1635.9M637.6 1629L668.4 1646.4M640.5 1652.1L669.1 1653.3M639.8 1646.2L670.2 1663.5M642.6 1668.8L670.9 1670.3M641.9 1663L671.9 1680.2M644.6 1685L672.6 1686.8M643.9 1679.4L673.6 1696.5M646.6 1700.8L674.3 1702.9M645.9 1695.3L675.2 1712.4M648.6 1716.2L675.9 1718.7M647.9 1710.9L676.9 1727.9M650.5 1731.3L677.5 1734M649.8 1726L678.4 1742.9M652.3 1745.9L679 1748.9M651.7 1740.8L680 1757.7M654.1 1760.3L680.6 1763.5M653.5 1755.3L681.4 1772M655.9 1774.2L682 1777.7M655.3 1769.4L682.9 1786M657.6 1787.9L683.5 1791.6M657 1783.2L684.3 1799.7M659.3 1801.3L684.9 1805.1M658.7 1796.6L685.7 1813.1M660.9 1814.3L686.3 1818.4M660.4 1809.8L687.1 1826.2M662.5 1827.1L687.6 1831.3M662 1822.6L688.4 1838.9M664.1 1839.5L688.9 1844M663.6 1835.2L689.7 1851.4M665.6 1851.7L690.2 1856.3M665.1 1847.5L691 1863.6M667.1 1863.6L691.5 1868.4M666.6 1859.5L692.2 1875.5M668.6 1875.3L692.7 1880.2M668.1 1871.2L693.4 1887.2M670 1886.7L693.9 1891.8M669.5 1882.7L694.6 1898.6M671.5 1897.9L695.1 1903.1M671 1894L695.8 1909.8M672.8 1908.8L696.2 1914.2M672.4 1905L696.9 1920.7M674.2 1919.5L697.3 1925M673.7 1915.8L698 1931.4M675.5 1930L698.4 1935.7M675 1926.4L699.1 1941.9M676.8 1940.3L699.5 1946.1M676.4 1936.8L700.2 1952.2M678.1 1950.4L700.6 1956.2M677.6 1946.9L701.2 1962.2M679.3 1960.3L701.6 1966.2M678.9 1956.9L702.2 1972.1M680.5 1970L702.6 1976M680.1 1966.6L703.2 1981.8M681.7 1979.5L703.6 1985.6M681.3 1976.2L704.2 1991.2M682.9 1988.8L704.6 1995M682.5 1985.5L705.2 2000.5M684.1 1997.9L705.6 2004.2M683.7 1994.7L706.1 2009.6M685.2 2006.9L706.5 2013.2M684.8 2003.8L707.1 2018.6M686.3 2015.7L707.4 2022.1M685.9 2012.6L708 2027.3M687.4 2024.3L708.3 2030.8M687 2021.3L708.9 2035.9" stroke="#6a6a6a" stroke-width="3" fill="none"/>
<polygon points="272.4,860.2 544.7,898.8 691.4,2024.3 551.4,1941.4" fill="#b1b1b1" />
<line x1="366.9" y1="1227.9" x2="600.3" y2="1298" stroke="#4a4a4a" stroke-width="2.2" />
<line x1="366.9" y1="1230.4" x2="600.3" y2="1300.5" stroke="#c4c4c4" stroke-width="2" />
<line x1="432.3" y1="1485" x2="633.4" y2="1566.7" stroke="#efefef" stroke-width="2.2" />
<line x1="432.3" y1="1487.5" x2="633.4" y2="1569.2" stroke="#c4c4c4" stroke-width="2" />
<line x1="481.1" y1="1677.1" x2="657.5" y2="1761.9" stroke="#e8e8e8" stroke-width="2.2" />
<line x1="481.1" y1="1679.6" x2="657.5" y2="1764.4" stroke="#c4c4c4" stroke-width="2" />
<line x1="519.1" y1="1826.5" x2="675.8" y2="1910.7" stroke="#6a6a6a" stroke-width="2.2" />
<line x1="519.1" y1="1829" x2="675.8" y2="1913.2" stroke="#c4c4c4" stroke-width="2" />
<polygon points="343,858 505,881 503,888 341,865" fill="#f6f6f6" />
<polygon points="275,853 338,861 337,868 274,860" fill="#8c8c8c" />
<polygon points="505,881 575,891 574,898 504,888" fill="#8c8c8c" />
<line x1="262" y1="842" x2="575" y2="885" stroke="#222" stroke-width="6" />
<polygon points="525.7,1932.8 940.4,2173.6 939.1,2180.9 528,1940.9" fill="#7e7e7e" />
<polygon points="722.1,2035.3 931.5,2156 929.5,2168.4 723.3,2048.5" fill="#050505" />
<polygon points="214.2,796.8 244,840.7 277.5,979 534.2,1940 528,1940.9" fill="url(#gLpost)" />
<polygon points="576.6,883.6 612,890.3 722.9,2044 708.6,2033" fill="url(#gMpost)" />
<polygon points="576.6,883.6 585.8,884.8 711.9,2035.5 708.6,2033" fill="#8a8a8a" opacity="0.6"/>
<polygon points="1102.7,949.2 1171.6,905.5 943,2184.3 930,2175.7" fill="url(#gCpost)" />
<polygon points="211,798 1171.6,905.5 1156.5,957.1 244,840.7" fill="url(#gBar)" />
<polygon points="211,798 1171.6,905.5 1102.7,949.2 244,840.7" fill="url(#gBar)" />
<polygon points="1171.6,905.5 1441.5,683.7 1427,727.4 1181.7,958" fill="#242424" />
<polygon points="1171.6,905.5 1182,957 957.5,2160 943,2184.3" fill="url(#gCside)" />
<line x1="1185" y1="957" x2="960.5" y2="2150" stroke="#a6a6a6" stroke-width="5" />
<polygon points="1187,955 1307.7,841 1035.4,1989.1 962.9,2142.9" fill="url(#gRpan)" />
<line x1="1102.7" y1="1402.7" x2="1215" y2="1232.1" stroke="#8e8e8e" stroke-width="1.8" />
<line x1="1048.4" y1="1689.9" x2="1150" y2="1505.9" stroke="#8e8e8e" stroke-width="1.8" />
<line x1="1011.2" y1="1886.9" x2="1103" y2="1704.2" stroke="#8e8e8e" stroke-width="1.8" />
<line x1="984.1" y1="2030.5" x2="1067.4" y2="1854.5" stroke="#8e8e8e" stroke-width="1.8" />
<line x1="1183" y1="957" x2="959" y2="2155" stroke="#2a2a2a" stroke-width="1.5" stroke-dasharray="6 3"/>
<polygon points="1307.7,841 1339.7,798 1065.5,1929.1 1035.4,1989.1" fill="#121212" />
<line x1="1336" y1="803" x2="1062" y2="1929.1" stroke="#6c6c6c" stroke-width="6" />
<polygon points="1381.7,764.4 1441.5,683.7 1135.2,1789.7 1096,1868" fill="#0b0b0b" />
<line x1="1431" y1="705" x2="1133.7" y2="1786.7" stroke="#6a6a6a" stroke-width="3" />
<circle cx="1396.5" cy="776" r="6.5" fill="#9a9a9a"/>
<line x1="1035.4" y1="1989.1" x2="955" y2="2165" stroke="#1a1a1a" stroke-width="3" />
<line x1="1135.2" y1="1789.7" x2="1035.4" y2="1989.1" stroke="#0b0b0b" stroke-width="5" />
<polygon points="267,793 738.4,666.7 813.6,668.5 813.6,862" fill="url(#gTopL)" />
<polygon points="211,798 267,793 813.6,853 813.6,865" fill="#ffffff" />
<polygon points="813.6,665 1441.5,683.7 1171.6,905.5 813.6,865" fill="url(#gTopD)" />
<polygon points="813.6,849 1155,888 1171.6,905.5 813.6,865" fill="#3b3b3b" />
<polygon points="1155,888 1400,690 1441.5,683.7 1171.6,905.5" fill="#232323" />
<polygon points="813.6,865 1171.6,905.5 1167,922 813.6,880" fill="#262626" />
<ellipse cx="534" cy="1944" rx="19" ry="15" fill="#8f8f8f"/>
<ellipse cx="531" cy="1940" rx="10" ry="8" fill="#777"/>
<ellipse cx="930" cy="2192" rx="27" ry="15" fill="#8a8a8a" transform="rotate(20 930 2192)"/>
<ellipse cx="1128" cy="1808" rx="6" ry="9" fill="#8a8a8a"/>
<polygon points="936,2120 960,2128 951.4,2184.3 930,2175.7" fill="#606060" />
</g>
<g id="arrows" fill="#db2a30" stroke="none">
<line x1="829.5" y1="1087.8" x2="1249" y2="1671" stroke="#db2a30" stroke-width="6.2" />
<polygon points="818.5,1072.3 815,1098.5 844,1077" fill="#db2a30" />
<line x1="572.4" y1="1232.5" x2="1261" y2="1857" stroke="#db2a30" stroke-width="6.2" />
<polygon points="558,1219.6 560,1246 584.7,1219" fill="#db2a30" />
</g>
<defs>
<linearGradient id="xGlass" gradientUnits="userSpaceOnUse" x1="2560" y1="420" x2="3050" y2="320">
 <stop offset="0" stop-color="#a9a9a9"/><stop offset="0.5" stop-color="#c2c2c2"/><stop offset="1" stop-color="#d3d3d3"/></linearGradient>
<linearGradient id="xFrameL" gradientUnits="userSpaceOnUse" x1="2503" y1="480" x2="2909" y2="555">
 <stop offset="0" stop-color="#b8b8b8"/><stop offset="0.35" stop-color="#8a8a8a"/><stop offset="0.7" stop-color="#a0a0a0"/><stop offset="1" stop-color="#c8c8c8"/></linearGradient>
<linearGradient id="xW1" gradientUnits="userSpaceOnUse" x1="2670" y1="600" x2="2830" y2="640">
 <stop offset="0" stop-color="#2f2f2f"/><stop offset="1" stop-color="#3a3a3a"/></linearGradient>
<linearGradient id="xW2" gradientUnits="userSpaceOnUse" x1="2720" y1="700" x2="2830" y2="700">
 <stop offset="0" stop-color="#2a2a2a"/><stop offset="1" stop-color="#1d1d1d"/></linearGradient>
<linearGradient id="xW3" gradientUnits="userSpaceOnUse" x1="2850" y1="700" x2="3010" y2="700">
 <stop offset="0" stop-color="#1b1b1b"/><stop offset="1" stop-color="#2a2a2a"/></linearGradient>
<linearGradient id="xR3" gradientUnits="userSpaceOnUse" x1="3330" y1="1450" x2="3250" y2="2150">
 <stop offset="0" stop-color="#aaaaaa"/><stop offset="1" stop-color="#c4c4c4"/></linearGradient>
<linearGradient id="xL3" gradientUnits="userSpaceOnUse" x1="2400" y1="1450" x2="2520" y2="2140">
 <stop offset="0" stop-color="#e2e2e2"/><stop offset="0.3" stop-color="#d2d2d2"/><stop offset="1" stop-color="#cdcdcd"/></linearGradient>
<filter id="spk" x="0" y="0" width="100%" height="100%"><feTurbulence type="fractalNoise" baseFrequency="0.9" numOctaves="1" seed="4" result="n"/>
 <feColorMatrix in="n" type="matrix" values="0 0 0 0 1  0 0 0 0 1  0 0 0 0 1  1.6 0 0 0 -0.62" result="w"/>
 <feComposite in="w" in2="SourceGraphic" operator="in" result="ww"/>
 <feMerge><feMergeNode in="SourceGraphic"/><feMergeNode in="ww"/></feMerge></filter>
</defs>
<g id="exploded">
<polygon points="2269.4,1052 2351.5,1007.6 2408,1560 2352,1622" fill="#a9a9a9" />
<line x1="2287.4" y1="1176.3" x2="2364.2" y2="1131.3" stroke="#ffffff" stroke-width="3" />
<line x1="2305.3" y1="1300" x2="2376.4" y2="1250.7" stroke="#ffffff" stroke-width="3" />
<line x1="2322" y1="1415.1" x2="2387.9" y2="1363.3" stroke="#ffffff" stroke-width="3" />
<line x1="2337.3" y1="1520.5" x2="2398.4" y2="1466.1" stroke="#ffffff" stroke-width="3" />
<polygon points="2410,1095.3 2497.6,1046.6 2523,1636 2495,1700" fill="#bcbcbc" filter="url(#spk)"/>
<line x1="2428.3" y1="1225.3" x2="2503.7" y2="1188.1" stroke="#ffffff" stroke-width="3" />
<line x1="2445.7" y1="1349.3" x2="2509" y2="1310.1" stroke="#ffffff" stroke-width="3" />
<line x1="2462.7" y1="1470.2" x2="2514" y2="1426.8" stroke="#ffffff" stroke-width="3" />
<line x1="2478.8" y1="1585.1" x2="2518.7" y2="1535.8" stroke="#ffffff" stroke-width="3" />
<polygon points="3228,958.5 3335.7,983.8 3278,1538.3 3211.8,1517" fill="#c6c6c6" filter="url(#spk)"/>
<line x1="3224.8" y1="1070.2" x2="3323.9" y2="1097.5" stroke="#ffffff" stroke-width="3" />
<line x1="3221.2" y1="1193.1" x2="3311.2" y2="1219.5" stroke="#ffffff" stroke-width="3" />
<line x1="3217.8" y1="1310.4" x2="3298.8" y2="1338.7" stroke="#ffffff" stroke-width="3" />
<line x1="3214.6" y1="1422.1" x2="3287.2" y2="1449.6" stroke="#ffffff" stroke-width="3" />
<polygon points="3135,1028.6 3246.8,1057.8 3202,1631.9 3104.6,1598.8" fill="#c4c4c4" filter="url(#spk)"/>
<line x1="3128.3" y1="1154" x2="3236.9" y2="1184.1" stroke="#e9e9e9" stroke-width="2.2" />
<line x1="3121.3" y1="1285.2" x2="3226.6" y2="1316.1" stroke="#e9e9e9" stroke-width="2.2" />
<line x1="3114.6" y1="1410.6" x2="3216.8" y2="1442.4" stroke="#e9e9e9" stroke-width="2.2" />
<line x1="3108.9" y1="1519" x2="3208.3" y2="1551.5" stroke="#e9e9e9" stroke-width="2.2" />
<polygon points="2585.3,1062 2601.3,1063 2621.7,1421 2607,1420" fill="#8f8f8f" />
<polygon points="2595.2,1062.6 2601.3,1063 2621.7,1421 2616.3,1420.6" fill="#6e6e6e" />
<polygon points="2585.3,1062 2592.5,1057 2602.1,1059 2601.3,1065 2593.3,1067" fill="#2a2a2a" />
<polygon points="2478,1131 2496,1132 2549.6,1729 2533,1728" fill="#8f8f8f" />
<polygon points="2489.2,1131.6 2496,1132 2549.6,1729 2543.4,1728.6" fill="#6e6e6e" />
<polygon points="2478,1131 2486.1,1126 2496.9,1128 2496,1134 2487,1136" fill="#2a2a2a" />
<line x1="2496" y1="1127.7" x2="2586.9" y2="1071" stroke="#777" stroke-width="2.2" />
<line x1="2496" y1="1132.7" x2="2586.9" y2="1076" stroke="#777" stroke-width="2.2" />
<line x1="2509" y1="1259.2" x2="2593.4" y2="1202.4" stroke="#777" stroke-width="2.2" />
<line x1="2509" y1="1264.2" x2="2593.4" y2="1207.4" stroke="#777" stroke-width="2.2" />
<line x1="2523.6" y1="1377.7" x2="2601.5" y2="1325.8" stroke="#777" stroke-width="2.2" />
<line x1="2523.6" y1="1382.7" x2="2601.5" y2="1330.8" stroke="#777" stroke-width="2.2" />
<line x1="2530.6" y1="1502" x2="2608.6" y2="1440" stroke="#777" stroke-width="2.2" />
<line x1="2530.6" y1="1507" x2="2608.6" y2="1445" stroke="#777" stroke-width="2.2" />
<line x1="2541" y1="1614" x2="2611" y2="1551" stroke="#777" stroke-width="2.2" />
<line x1="2541" y1="1619" x2="2611" y2="1556" stroke="#777" stroke-width="2.2" />
<polygon points="3020.8,1093 3033.8,1094 3015,1681 3003,1680" fill="#7c7c7c" />
<polygon points="3028.9,1093.6 3033.8,1094 3015,1681 3010.5,1680.6" fill="#5c5c5c" />
<polygon points="3020.8,1093 3026.7,1088 3034.5,1090 3033.8,1096 3027.3,1098" fill="#2a2a2a" />
<polygon points="3174.7,1136 3188.7,1137 3164.9,1479 3152,1478" fill="#2c2c2c" />
<polygon points="3183.4,1136.6 3188.7,1137 3164.9,1479 3160.1,1478.6" fill="#3a3a3a" />
<polygon points="3174.7,1136 3181,1131 3189.4,1133 3188.7,1139 3181.7,1141" fill="#2a2a2a" />
<line x1="3034" y1="1098" x2="3176" y2="1140" stroke="#555" stroke-width="2.4" />
<line x1="3034" y1="1104" x2="3176" y2="1146" stroke="#555" stroke-width="2.4" />
<line x1="3031" y1="1228" x2="3170" y2="1272" stroke="#555" stroke-width="2.4" />
<line x1="3031" y1="1234" x2="3170" y2="1278" stroke="#555" stroke-width="2.4" />
<line x1="3026" y1="1368" x2="3163" y2="1412" stroke="#555" stroke-width="2.4" />
<line x1="3026" y1="1374" x2="3163" y2="1418" stroke="#555" stroke-width="2.4" />
<polygon points="2666.8,577.5 2823,616 2827,1385 2698.8,1370" fill="url(#xW1)" />
<polygon points="2851.7,599.3 2939,560.7 2939,640 2851.7,620" fill="#2b2b2b" />
<polygon points="2717.2,666.6 2823,614 2831,1437 2741,1513" fill="url(#xW2)" />
<polygon points="2850,614 3011.3,644.7 2989,1470 2851,1420" fill="url(#xW3)" />
<polygon points="2819.7,590 2828,585 2851.7,588 2851,1425 2829,1435" fill="#a2a2a2" filter="url(#spk)"/>
<polygon points="2819.7,590 2828,585 2851.7,588 2843,593" fill="#777" />
<line x1="2829" y1="600" x2="2830" y2="1385" stroke="#c8c8c8" stroke-width="3" />
<path d="M2590 1401L2778 1211.9M2602.9 1406.6L2790.6 1217.6M2615.8 1412.3L2803.2 1223.3M2628.7 1417.9L2815.8 1229M2641.7 1423.5L2828.5 1234.7M2654.6 1429.1L2841.1 1240.4M2667.5 1434.8L2853.7 1246.1M2680.4 1440.4L2866.3 1251.8M2693.3 1446L2878.9 1257.5M2706.2 1451.6L2891.5 1263.2M2719.2 1457.3L2904.1 1268.9M2732.1 1462.9L2916.7 1274.6M2745 1468.5L2929.4 1280.3M2757.9 1474.1L2942 1286M2770.8 1479.8L2954.6 1291.7M2783.7 1485.4L2967.2 1297.4M2796.7 1491L2979.8 1303.1M2809.6 1496.6L2992.4 1308.8M2822.5 1502.3L3005 1314.5M2835.4 1507.9L3017.6 1320.2M2848.3 1513.5L3030.3 1325.9M2861.2 1519.1L3042.9 1331.6M2874.2 1524.8L3055.5 1337.3M2887.1 1530.4L3068.1 1343M2900 1536L3080.7 1348.7M2590 1401L2900 1536M2597.8 1393.1L2907.5 1528.2M2605.7 1385.2L2915.1 1520.4M2613.5 1377.4L2922.6 1512.6M2621.3 1369.5L2930.1 1504.8M2629.2 1361.6L2937.6 1497M2637 1353.7L2945.2 1489.2M2644.8 1345.9L2952.7 1481.4M2652.7 1338L2960.2 1473.6M2660.5 1330.1L2967.8 1465.8M2668.3 1322.2L2975.3 1458M2676.2 1314.3L2982.8 1450.2M2684 1306.5L2990.3 1442.4M2691.8 1298.6L2997.9 1434.6M2699.7 1290.7L3005.4 1426.7M2707.5 1282.8L3012.9 1418.9M2715.3 1275L3020.5 1411.1M2723.2 1267.1L3028 1403.3M2731 1259.2L3035.5 1395.5M2738.8 1251.3L3043.1 1387.7M2746.7 1243.5L3050.6 1379.9M2754.5 1235.6L3058.1 1372.1M2762.3 1227.7L3065.6 1364.3M2770.2 1219.8L3073.2 1356.5M2778 1211.9L3080.7 1348.7" stroke="#585858" stroke-width="1.8" fill="none"/>
<polygon points="2590,1401 2900,1536 3080.7,1348.7 2778,1211.9" fill="none" stroke="#4a4a4a" stroke-width="3"/>
<line x1="2837.2" y1="1374.4" x2="2781.9" y2="1430.9" stroke="#2e2e2e" stroke-width="6" />
<line x1="2846.2" y1="1379.4" x2="2790.9" y2="1435.9" stroke="#8a8a8a" stroke-width="3" />
<line x1="2837.2" y1="1374.4" x2="2760.6" y2="1340.4" stroke="#555" stroke-width="4" />
<line x1="2837.2" y1="1374.4" x2="2921.4" y2="1411.8" stroke="#4a4a4a" stroke-width="6" />
<line x1="2837.2" y1="1381.4" x2="2921.4" y2="1418.8" stroke="#9a9a9a" stroke-width="2.5" />
<line x1="2837.2" y1="1374.4" x2="2883.3" y2="1327.4" stroke="#666" stroke-width="3" />
<polygon points="2823.2,1372.4 2843.2,1362.4 2857.2,1370.4 2837.2,1382.4" fill="#1c1c1c" />
<polygon points="2840.2,1380.4 2846.2,1378.4 2846.2,1404.4 2840.2,1406.4" fill="#a8a8a8" />
<polygon points="2575,1395 2595,1391 2595,1398 2582,1401 2582,1416 2575,1417" fill="#7a7a7a" />
<polygon points="3097.7,1344.7 3077.7,1338.7 3077.7,1345.7 3090.7,1350.7 3090.7,1365.7 3097.7,1366.7" fill="#6a6a6a" />
<path d="M2600 1472L2778.9 1278.7M2612.5 1477.7L2791.2 1284.4M2625 1483.3L2803.4 1290.1M2637.4 1489L2815.7 1295.8M2649.9 1494.7L2827.9 1301.5M2662.4 1500.4L2840.2 1307.2M2674.9 1506L2852.4 1312.9M2687.4 1511.7L2864.7 1318.6M2699.9 1517.4L2876.9 1324.3M2712.3 1523L2889.2 1330M2724.8 1528.7L2901.4 1335.7M2737.3 1534.4L2913.7 1341.4M2749.8 1540.1L2926 1347.1M2762.3 1545.7L2938.2 1352.9M2774.8 1551.4L2950.5 1358.6M2787.2 1557.1L2962.7 1364.3M2799.7 1562.7L2975 1370M2812.2 1568.4L2987.2 1375.7M2824.7 1574.1L2999.5 1381.4M2837.2 1579.8L3011.7 1387.1M2849.7 1585.4L3024 1392.8M2862.1 1591.1L3036.2 1398.5M2874.6 1596.8L3048.5 1404.2M2887.1 1602.4L3060.7 1409.9M2899.6 1608.1L3073 1415.6M2600 1472L2899.6 1608.1M2607.5 1463.9L2906.8 1600.1M2614.9 1455.9L2914 1592.1M2622.4 1447.8L2921.3 1584.1M2629.8 1439.8L2928.5 1576M2637.3 1431.7L2935.7 1568M2644.7 1423.7L2942.9 1560M2652.2 1415.6L2950.2 1552M2659.6 1407.6L2957.4 1543.9M2667.1 1399.5L2964.6 1535.9M2674.5 1391.5L2971.8 1527.9M2682 1383.4L2979.1 1519.9M2689.5 1375.3L2986.3 1511.9M2696.9 1367.3L2993.5 1503.8M2704.4 1359.2L3000.7 1495.8M2711.8 1351.2L3008 1487.8M2719.3 1343.1L3015.2 1479.8M2726.7 1335.1L3022.4 1471.8M2734.2 1327L3029.6 1463.7M2741.6 1319L3036.9 1455.7M2749.1 1310.9L3044.1 1447.7M2756.5 1302.9L3051.3 1439.7M2764 1294.8L3058.5 1431.6M2771.5 1286.8L3065.8 1423.6M2778.9 1278.7L3073 1415.6" stroke="#585858" stroke-width="1.8" fill="none"/>
<polygon points="2600,1472 2899.6,1608.1 3073,1415.6 2778.9,1278.7" fill="none" stroke="#4a4a4a" stroke-width="3"/>
<line x1="2837.9" y1="1443.6" x2="2785" y2="1501.5" stroke="#2e2e2e" stroke-width="6" />
<line x1="2846.9" y1="1448.6" x2="2794" y2="1506.5" stroke="#8a8a8a" stroke-width="3" />
<line x1="2837.9" y1="1443.6" x2="2763.7" y2="1409.5" stroke="#555" stroke-width="4" />
<line x1="2837.9" y1="1443.6" x2="2919.5" y2="1481.1" stroke="#4a4a4a" stroke-width="6" />
<line x1="2837.9" y1="1450.6" x2="2919.5" y2="1488.1" stroke="#9a9a9a" stroke-width="2.5" />
<line x1="2837.9" y1="1443.6" x2="2881.9" y2="1395.4" stroke="#666" stroke-width="3" />
<polygon points="2823.9,1441.6 2843.9,1431.6 2857.9,1439.6 2837.9,1451.6" fill="#1c1c1c" />
<polygon points="2840.9,1449.6 2846.9,1447.6 2846.9,1473.6 2840.9,1475.6" fill="#a8a8a8" />
<polygon points="2585,1466 2605,1462 2605,1469 2592,1472 2592,1487 2585,1488" fill="#7a7a7a" />
<polygon points="3090,1411.6 3070,1405.6 3070,1412.6 3083,1417.6 3083,1432.6 3090,1433.6" fill="#6a6a6a" />
<path d="M2606 1532.5L2779.7 1335.6M2618.2 1538.2L2791.8 1341.7M2630.4 1543.9L2803.9 1347.8M2642.7 1549.6L2816.1 1353.9M2654.9 1555.3L2828.2 1360M2667.1 1561.1L2840.4 1366M2679.3 1566.8L2852.5 1372.1M2691.5 1572.5L2864.6 1378.2M2703.7 1578.2L2876.8 1384.3M2716 1583.9L2888.9 1390.4M2728.2 1589.6L2901.1 1396.5M2740.4 1595.3L2913.2 1402.6M2752.6 1601L2925.3 1408.7M2764.8 1606.7L2937.5 1414.8M2777.1 1612.5L2949.6 1420.9M2789.3 1618.2L2961.8 1427M2801.5 1623.9L2973.9 1433.1M2813.7 1629.6L2986 1439.2M2825.9 1635.3L2998.2 1445.2M2838.1 1641L3010.3 1451.3M2850.4 1646.7L3022.4 1457.4M2862.6 1652.4L3034.6 1463.5M2874.8 1658.1L3046.7 1469.6M2887 1663.8L3058.9 1475.7M2899.2 1669.6L3071 1481.8M2606 1532.5L2899.2 1669.6M2613.2 1524.3L2906.4 1661.7M2620.5 1516.1L2913.6 1653.9M2627.7 1507.9L2920.7 1646.1M2634.9 1499.7L2927.9 1638.3M2642.2 1491.5L2935 1630.4M2649.4 1483.3L2942.2 1622.6M2656.7 1475.1L2949.3 1614.8M2663.9 1466.9L2956.5 1607M2671.1 1458.7L2963.7 1599.2M2678.4 1450.5L2970.8 1591.3M2685.6 1442.2L2978 1583.5M2692.8 1434L2985.1 1575.7M2700.1 1425.8L2992.3 1567.9M2707.3 1417.6L2999.4 1560M2714.5 1409.4L3006.6 1552.2M2721.8 1401.2L3013.7 1544.4M2729 1393L3020.9 1536.6M2736.3 1384.8L3028.1 1528.7M2743.5 1376.6L3035.2 1520.9M2750.7 1368.4L3042.4 1513.1M2758 1360.2L3049.5 1505.3M2765.2 1352L3056.7 1497.4M2772.4 1343.8L3063.8 1489.6M2779.7 1335.6L3071 1481.8" stroke="#585858" stroke-width="1.8" fill="none"/>
<polygon points="2606,1532.5 2899.2,1669.6 3071,1481.8 2779.7,1335.6" fill="none" stroke="#4a4a4a" stroke-width="3"/>
<line x1="2839" y1="1504.9" x2="2787.2" y2="1562.6" stroke="#2e2e2e" stroke-width="6" />
<line x1="2848" y1="1509.9" x2="2796.2" y2="1567.6" stroke="#8a8a8a" stroke-width="3" />
<line x1="2839" y1="1504.9" x2="2765.9" y2="1469.5" stroke="#555" stroke-width="4" />
<line x1="2839" y1="1504.9" x2="2919.4" y2="1543.8" stroke="#4a4a4a" stroke-width="6" />
<line x1="2839" y1="1511.9" x2="2919.4" y2="1550.8" stroke="#9a9a9a" stroke-width="2.5" />
<line x1="2839" y1="1504.9" x2="2882.2" y2="1456.8" stroke="#666" stroke-width="3" />
<polygon points="2825,1502.9 2845,1492.9 2859,1500.9 2839,1512.9" fill="#1c1c1c" />
<polygon points="2842,1510.9 2848,1508.9 2848,1534.9 2842,1536.9" fill="#a8a8a8" />
<polygon points="2591,1526.5 2611,1522.5 2611,1529.5 2598,1532.5 2598,1547.5 2591,1548.5" fill="#7a7a7a" />
<polygon points="3088,1477.8 3068,1471.8 3068,1478.8 3081,1483.8 3081,1498.8 3088,1499.8" fill="#6a6a6a" />
<path d="M2612 1593L2780.4 1392.5M2624 1598.8L2792.4 1398.8M2635.9 1604.5L2804.3 1405.1M2647.9 1610.3L2816.3 1411.4M2659.8 1616L2828.2 1417.7M2671.8 1621.8L2840.1 1424M2683.7 1627.5L2852.1 1430.4M2695.7 1633.3L2864 1436.7M2707.6 1639L2876 1443M2719.6 1644.8L2887.9 1449.3M2731.5 1650.5L2899.8 1455.6M2743.5 1656.3L2911.8 1461.9M2755.4 1662L2923.7 1468.2M2767.4 1667.8L2935.7 1474.5M2779.4 1673.5L2947.6 1480.9M2791.3 1679.3L2959.5 1487.2M2803.3 1685L2971.5 1493.5M2815.2 1690.8L2983.4 1499.8M2827.2 1696.5L2995.4 1506.1M2839.1 1702.3L3007.3 1512.4M2851.1 1708L3019.2 1518.7M2863 1713.8L3031.2 1525.1M2875 1719.5L3043.1 1531.4M2886.9 1725.3L3055.1 1537.7M2898.9 1731L3067 1544M2612 1593L2898.9 1731M2619 1584.6L2905.9 1723.2M2626 1576.3L2912.9 1715.4M2633.1 1567.9L2919.9 1707.6M2640.1 1559.6L2926.9 1699.8M2647.1 1551.2L2933.9 1692M2654.1 1542.9L2940.9 1684.3M2661.1 1534.5L2947.9 1676.5M2668.1 1526.2L2954.9 1668.7M2675.2 1517.8L2961.9 1660.9M2682.2 1509.4L2968.9 1653.1M2689.2 1501.1L2975.9 1645.3M2696.2 1492.7L2982.9 1637.5M2703.2 1484.4L2990 1629.7M2710.3 1476L2997 1621.9M2717.3 1467.7L3004 1614.1M2724.3 1459.3L3011 1606.3M2731.3 1451L3018 1598.5M2738.3 1442.6L3025 1590.8M2745.3 1434.2L3032 1583M2752.4 1425.9L3039 1575.2M2759.4 1417.5L3046 1567.4M2766.4 1409.2L3053 1559.6M2773.4 1400.8L3060 1551.8M2780.4 1392.5L3067 1544" stroke="#585858" stroke-width="1.8" fill="none"/>
<polygon points="2612,1593 2898.9,1731 3067,1544 2780.4,1392.5" fill="none" stroke="#4a4a4a" stroke-width="3"/>
<line x1="2839.6" y1="1565.1" x2="2789.1" y2="1623.2" stroke="#2e2e2e" stroke-width="6" />
<line x1="2848.6" y1="1570.1" x2="2798.1" y2="1628.2" stroke="#8a8a8a" stroke-width="3" />
<line x1="2839.6" y1="1565.1" x2="2767.9" y2="1528.9" stroke="#555" stroke-width="4" />
<line x1="2839.6" y1="1565.1" x2="2918.4" y2="1604.9" stroke="#4a4a4a" stroke-width="6" />
<line x1="2839.6" y1="1572.1" x2="2918.4" y2="1611.9" stroke="#9a9a9a" stroke-width="2.5" />
<line x1="2839.6" y1="1565.1" x2="2881.6" y2="1516.7" stroke="#666" stroke-width="3" />
<polygon points="2825.6,1563.1 2845.6,1553.1 2859.6,1561.1 2839.6,1573.1" fill="#1c1c1c" />
<polygon points="2842.6,1571.1 2848.6,1569.1 2848.6,1595.1 2842.6,1597.1" fill="#a8a8a8" />
<polygon points="2597,1587 2617,1583 2617,1590 2604,1593 2604,1608 2597,1609" fill="#7a7a7a" />
<polygon points="3084,1540 3064,1534 3064,1541 3077,1546 3077,1561 3084,1562" fill="#6a6a6a" />
<path d="M2616 1653L2781.2 1448.9M2627.8 1658.8L2792.9 1455.3M2639.5 1664.6L2804.7 1461.7M2651.3 1670.4L2816.4 1468.1M2663.1 1676.2L2828.2 1474.5M2674.9 1681.9L2839.9 1480.9M2686.6 1687.7L2851.6 1487.3M2698.4 1693.5L2863.4 1493.7M2710.2 1699.3L2875.1 1500.1M2722 1705.1L2886.9 1506.5M2733.7 1710.9L2898.6 1512.9M2745.5 1716.7L2910.4 1519.3M2757.3 1722.5L2922.1 1525.7M2769 1728.3L2933.8 1532.1M2780.8 1734L2945.6 1538.6M2792.6 1739.8L2957.3 1545M2804.4 1745.6L2969.1 1551.4M2816.1 1751.4L2980.8 1557.8M2827.9 1757.2L2992.5 1564.2M2839.7 1763L3004.3 1570.6M2851.5 1768.8L3016 1577M2863.2 1774.6L3027.8 1583.4M2875 1780.4L3039.5 1589.8M2886.8 1786.1L3051.3 1596.2M2898.6 1791.9L3063 1602.6M2616 1653L2898.6 1791.9M2622.9 1644.5L2905.4 1784M2629.8 1636L2912.3 1776.2M2636.6 1627.5L2919.1 1768.3M2643.5 1619L2926 1760.4M2650.4 1610.5L2932.8 1752.5M2657.3 1602L2939.7 1744.6M2664.2 1593.5L2946.5 1736.7M2671.1 1585L2953.4 1728.8M2677.9 1576.5L2960.2 1720.9M2684.8 1568L2967.1 1713M2691.7 1559.4L2973.9 1705.2M2698.6 1550.9L2980.8 1697.3M2705.5 1542.4L2987.6 1689.4M2712.4 1533.9L2994.5 1681.5M2719.2 1525.4L3001.3 1673.6M2726.1 1516.9L3008.2 1665.7M2733 1508.4L3015 1657.8M2739.9 1499.9L3021.9 1649.9M2746.8 1491.4L3028.7 1642M2753.7 1482.9L3035.6 1634.2M2760.5 1474.4L3042.4 1626.3M2767.4 1465.9L3049.3 1618.4M2774.3 1457.4L3056.1 1610.5M2781.2 1448.9L3063 1602.6" stroke="#585858" stroke-width="1.8" fill="none"/>
<polygon points="2616,1653 2898.6,1791.9 3063,1602.6 2781.2,1448.9" fill="none" stroke="#4a4a4a" stroke-width="3"/>
<line x1="2839.7" y1="1624.1" x2="2790.2" y2="1683.1" stroke="#2e2e2e" stroke-width="6" />
<line x1="2848.7" y1="1629.1" x2="2799.2" y2="1688.1" stroke="#8a8a8a" stroke-width="3" />
<line x1="2839.7" y1="1624.1" x2="2769.1" y2="1587.5" stroke="#555" stroke-width="4" />
<line x1="2839.7" y1="1624.1" x2="2917.3" y2="1664.3" stroke="#4a4a4a" stroke-width="6" />
<line x1="2839.7" y1="1631.1" x2="2917.3" y2="1671.3" stroke="#9a9a9a" stroke-width="2.5" />
<line x1="2839.7" y1="1624.1" x2="2880.9" y2="1574.9" stroke="#666" stroke-width="3" />
<polygon points="2825.7,1622.1 2845.7,1612.1 2859.7,1620.1 2839.7,1632.1" fill="#1c1c1c" />
<polygon points="2842.7,1630.1 2848.7,1628.1 2848.7,1654.1 2842.7,1656.1" fill="#a8a8a8" />
<polygon points="2601,1647 2621,1643 2621,1650 2608,1653 2608,1668 2601,1669" fill="#7a7a7a" />
<polygon points="3080,1598.6 3060,1592.6 3060,1599.6 3073,1604.6 3073,1619.6 3080,1620.6" fill="#6a6a6a" />
<path d="M2618 1712L2781.9 1504.4M2629.7 1717.8L2793.5 1510.9M2641.4 1723.7L2805.1 1517.4M2653 1729.5L2816.6 1523.9M2664.7 1735.3L2828.2 1530.5M2676.4 1741.1L2839.8 1537M2688.1 1747L2851.3 1543.5M2699.7 1752.8L2862.9 1550M2711.4 1758.6L2874.5 1556.6M2723.1 1764.4L2886 1563.1M2734.8 1770.3L2897.6 1569.6M2746.4 1776.1L2909.2 1576.2M2758.1 1781.9L2920.7 1582.7M2769.8 1787.8L2932.3 1589.2M2781.5 1793.6L2943.8 1595.7M2793.1 1799.4L2955.4 1602.3M2804.8 1805.2L2967 1608.8M2816.5 1811.1L2978.5 1615.3M2828.2 1816.9L2990.1 1621.8M2839.8 1822.7L3001.7 1628.4M2851.5 1828.5L3013.2 1634.9M2863.2 1834.4L3024.8 1641.4M2874.9 1840.2L3036.4 1647.9M2886.5 1846L3047.9 1654.5M2898.2 1851.9L3059.5 1661M2618 1712L2898.2 1851.9M2624.8 1703.3L2904.9 1843.9M2631.7 1694.7L2911.7 1835.9M2638.5 1686L2918.4 1828M2645.3 1677.4L2925.1 1820M2652.2 1668.7L2931.8 1812.1M2659 1660.1L2938.5 1804.1M2665.8 1651.4L2945.3 1796.2M2672.6 1642.8L2952 1788.2M2679.5 1634.1L2958.7 1780.3M2686.3 1625.5L2965.4 1772.3M2693.1 1616.8L2972.1 1764.4M2700 1608.2L2978.9 1756.4M2706.8 1599.5L2985.6 1748.5M2713.6 1590.9L2992.3 1740.5M2720.5 1582.2L2999 1732.6M2727.3 1573.6L3005.7 1724.6M2734.1 1564.9L3012.5 1716.7M2740.9 1556.3L3019.2 1708.7M2747.8 1547.6L3025.9 1700.8M2754.6 1539L3032.6 1692.8M2761.4 1530.3L3039.3 1684.9M2768.3 1521.7L3046.1 1676.9M2775.1 1513L3052.8 1669M2781.9 1504.4L3059.5 1661" stroke="#585858" stroke-width="1.8" fill="none"/>
<polygon points="2618,1712 2898.2,1851.9 3059.5,1661 2781.9,1504.4" fill="none" stroke="#4a4a4a" stroke-width="3"/>
<line x1="2839.4" y1="1682.3" x2="2790.6" y2="1742.1" stroke="#2e2e2e" stroke-width="6" />
<line x1="2848.4" y1="1687.3" x2="2799.6" y2="1747.1" stroke="#8a8a8a" stroke-width="3" />
<line x1="2839.4" y1="1682.3" x2="2769.7" y2="1645.2" stroke="#555" stroke-width="4" />
<line x1="2839.4" y1="1682.3" x2="2916.1" y2="1723.1" stroke="#4a4a4a" stroke-width="6" />
<line x1="2839.4" y1="1689.3" x2="2916.1" y2="1730.1" stroke="#9a9a9a" stroke-width="2.5" />
<line x1="2839.4" y1="1682.3" x2="2880.1" y2="1632.5" stroke="#666" stroke-width="3" />
<polygon points="2825.4,1680.3 2845.4,1670.3 2859.4,1678.3 2839.4,1690.3" fill="#1c1c1c" />
<polygon points="2842.4,1688.3 2848.4,1686.3 2848.4,1712.3 2842.4,1714.3" fill="#a8a8a8" />
<polygon points="2603,1706 2623,1702 2623,1709 2610,1712 2610,1727 2603,1728" fill="#7a7a7a" />
<polygon points="3076.5,1657 3056.5,1651 3056.5,1658 3069.5,1663 3069.5,1678 3076.5,1679" fill="#6a6a6a" />
<path d="M2621.5 1768L2782.6 1557M2633 1773.9L2794.1 1563.6M2644.5 1779.7L2805.5 1570.2M2656 1785.6L2817 1576.8M2667.6 1791.5L2828.4 1583.4M2679.1 1797.3L2839.9 1590.1M2690.6 1803.2L2851.4 1596.7M2702.1 1809L2862.8 1603.3M2713.6 1814.9L2874.3 1609.9M2725.1 1820.8L2885.7 1616.5M2736.7 1826.6L2897.2 1623.1M2748.2 1832.5L2908.6 1629.7M2759.7 1838.4L2920.1 1636.3M2771.2 1844.2L2931.5 1642.9M2782.7 1850.1L2943 1649.5M2794.2 1856L2954.4 1656.1M2805.8 1861.8L2965.9 1662.7M2817.3 1867.7L2977.3 1669.3M2828.8 1873.5L2988.8 1676M2840.3 1879.4L3000.2 1682.6M2851.8 1885.3L3011.7 1689.2M2863.3 1891.1L3023.1 1695.8M2874.9 1897L3034.6 1702.4M2886.4 1902.9L3046 1709M2897.9 1908.7L3057.5 1715.6M2621.5 1768L2897.9 1908.7M2628.2 1759.2L2904.5 1900.7M2634.9 1750.4L2911.2 1892.6M2641.6 1741.6L2917.8 1884.6M2648.4 1732.8L2924.5 1876.5M2655.1 1724L2931.1 1868.5M2661.8 1715.3L2937.8 1860.4M2668.5 1706.5L2944.4 1852.4M2675.2 1697.7L2951.1 1844.3M2681.9 1688.9L2957.7 1836.3M2688.6 1680.1L2964.4 1828.3M2695.4 1671.3L2971 1820.2M2702.1 1662.5L2977.7 1812.2M2708.8 1653.7L2984.3 1804.1M2715.5 1644.9L2991 1796.1M2722.2 1636.1L2997.6 1788M2728.9 1627.3L3004.3 1780M2735.6 1618.6L3010.9 1771.9M2742.4 1609.8L3017.6 1763.9M2749.1 1601L3024.2 1755.8M2755.8 1592.2L3030.9 1747.8M2762.5 1583.4L3037.5 1739.7M2769.2 1574.6L3044.2 1731.7M2775.9 1565.8L3050.8 1723.6M2782.6 1557L3057.5 1715.6" stroke="#585858" stroke-width="1.8" fill="none"/>
<polygon points="2621.5,1768 2897.9,1908.7 3057.5,1715.6 2782.6,1557" fill="none" stroke="#4a4a4a" stroke-width="3"/>
<line x1="2839.9" y1="1737.3" x2="2791.8" y2="1798" stroke="#2e2e2e" stroke-width="6" />
<line x1="2848.9" y1="1742.3" x2="2800.8" y2="1803" stroke="#8a8a8a" stroke-width="3" />
<line x1="2839.9" y1="1737.3" x2="2771" y2="1699.9" stroke="#555" stroke-width="4" />
<line x1="2839.9" y1="1737.3" x2="2915.7" y2="1778.5" stroke="#4a4a4a" stroke-width="6" />
<line x1="2839.9" y1="1744.3" x2="2915.7" y2="1785.5" stroke="#9a9a9a" stroke-width="2.5" />
<line x1="2839.9" y1="1737.3" x2="2880" y2="1686.8" stroke="#666" stroke-width="3" />
<polygon points="2825.9,1735.3 2845.9,1725.3 2859.9,1733.3 2839.9,1745.3" fill="#1c1c1c" />
<polygon points="2842.9,1743.3 2848.9,1741.3 2848.9,1767.3 2842.9,1769.3" fill="#a8a8a8" />
<polygon points="2606.5,1762 2626.5,1758 2626.5,1765 2613.5,1768 2613.5,1783 2606.5,1784" fill="#7a7a7a" />
<polygon points="3074.5,1711.6 3054.5,1705.6 3054.5,1712.6 3067.5,1717.6 3067.5,1732.6 3074.5,1733.6" fill="#6a6a6a" />
<path d="M2625 1825L2783.4 1610.6M2636.4 1830.9L2794.6 1617.2M2647.7 1836.8L2805.9 1623.7M2659.1 1842.7L2817.1 1630.3M2670.4 1848.6L2828.4 1636.8M2681.8 1854.5L2839.7 1643.4M2693.1 1860.4L2850.9 1650M2704.5 1866.3L2862.2 1656.5M2715.9 1872.2L2873.4 1663.1M2727.2 1878.1L2884.7 1669.6M2738.6 1884L2896 1676.2M2749.9 1889.9L2907.2 1682.7M2761.3 1895.8L2918.5 1689.3M2772.6 1901.7L2929.7 1695.9M2784 1907.6L2941 1702.4M2795.4 1913.5L2952.3 1709M2806.7 1919.4L2963.5 1715.5M2818.1 1925.3L2974.8 1722.1M2829.4 1931.2L2986 1728.7M2840.8 1937.1L2997.3 1735.2M2852.1 1943L3008.6 1741.8M2863.5 1948.9L3019.8 1748.3M2874.9 1954.8L3031.1 1754.9M2886.2 1960.7L3042.3 1761.4M2897.6 1966.6L3053.6 1768M2625 1825L2897.6 1966.6M2631.6 1816.1L2904.1 1958.3M2638.2 1807.1L2910.6 1950.1M2644.8 1798.2L2917.1 1941.8M2651.4 1789.3L2923.6 1933.5M2658 1780.3L2930.1 1925.2M2664.6 1771.4L2936.6 1917M2671.2 1762.5L2943.1 1908.7M2677.8 1753.5L2949.6 1900.4M2684.4 1744.6L2956.1 1892.1M2691 1735.7L2962.6 1883.9M2697.6 1726.7L2969.1 1875.6M2704.2 1717.8L2975.6 1867.3M2710.8 1708.9L2982.1 1859M2717.4 1699.9L2988.6 1850.8M2724 1691L2995.1 1842.5M2730.6 1682.1L3001.6 1834.2M2737.2 1673.1L3008.1 1825.9M2743.8 1664.2L3014.6 1817.7M2750.4 1655.3L3021.1 1809.4M2757 1646.3L3027.6 1801.1M2763.6 1637.4L3034.1 1792.8M2770.2 1628.5L3040.6 1784.6M2776.8 1619.5L3047.1 1776.3M2783.4 1610.6L3053.6 1768" stroke="#585858" stroke-width="1.8" fill="none"/>
<polygon points="2625,1825 2897.6,1966.6 3053.6,1768 2783.4,1610.6" fill="none" stroke="#4a4a4a" stroke-width="3"/>
<line x1="2839.9" y1="1792.6" x2="2792.7" y2="1854.5" stroke="#2e2e2e" stroke-width="6" />
<line x1="2848.9" y1="1797.6" x2="2801.7" y2="1859.5" stroke="#8a8a8a" stroke-width="3" />
<line x1="2839.9" y1="1792.6" x2="2772" y2="1755.2" stroke="#555" stroke-width="4" />
<line x1="2839.9" y1="1792.6" x2="2914.5" y2="1833.7" stroke="#4a4a4a" stroke-width="6" />
<line x1="2839.9" y1="1799.6" x2="2914.5" y2="1840.7" stroke="#9a9a9a" stroke-width="2.5" />
<line x1="2839.9" y1="1792.6" x2="2879.2" y2="1740.9" stroke="#666" stroke-width="3" />
<polygon points="2825.9,1790.6 2845.9,1780.6 2859.9,1788.6 2839.9,1800.6" fill="#1c1c1c" />
<polygon points="2842.9,1798.6 2848.9,1796.6 2848.9,1822.6 2842.9,1824.6" fill="#a8a8a8" />
<polygon points="2610,1819 2630,1815 2630,1822 2617,1825 2617,1840 2610,1841" fill="#7a7a7a" />
<polygon points="3070.6,1764 3050.6,1758 3050.6,1765 3063.6,1770 3063.6,1785 3070.6,1786" fill="#6a6a6a" />
<path d="M2629 1879L2784 1661.4M2640.2 1884.9L2795.2 1668M2651.4 1890.9L2806.3 1674.7M2662.5 1896.8L2817.5 1681.3M2673.7 1902.7L2828.6 1688M2684.9 1908.7L2839.8 1694.6M2696.1 1914.6L2850.9 1701.2M2707.2 1920.5L2862.1 1707.9M2718.4 1926.5L2873.2 1714.5M2729.6 1932.4L2884.4 1721.2M2740.8 1938.4L2895.5 1727.8M2752 1944.3L2906.7 1734.5M2763.1 1950.2L2917.8 1741.1M2774.3 1956.2L2929 1747.7M2785.5 1962.1L2940.1 1754.4M2796.7 1968L2951.3 1761M2807.8 1974L2962.4 1767.7M2819 1979.9L2973.6 1774.3M2830.2 1985.8L2984.7 1780.9M2841.4 1991.8L2995.9 1787.6M2852.5 1997.7L3007 1794.2M2863.7 2003.6L3018.2 1800.9M2874.9 2009.6L3029.3 1807.5M2886.1 2015.5L3040.5 1814.2M2897.3 2021.4L3051.6 1820.8M2629 1879L2897.3 2021.4M2635.5 1869.9L2903.7 2013.1M2641.9 1860.9L2910.1 2004.7M2648.4 1851.8L2916.5 1996.4M2654.8 1842.7L2923 1988M2661.3 1833.7L2929.4 1979.6M2667.8 1824.6L2935.8 1971.3M2674.2 1815.5L2942.3 1962.9M2680.7 1806.5L2948.7 1954.6M2687.1 1797.4L2955.1 1946.2M2693.6 1788.3L2961.6 1937.8M2700.1 1779.3L2968 1929.5M2706.5 1770.2L2974.4 1921.1M2713 1761.1L2980.9 1912.8M2719.4 1752.1L2987.3 1904.4M2725.9 1743L2993.7 1896M2732.4 1733.9L3000.2 1887.7M2738.8 1724.9L3006.6 1879.3M2745.3 1715.8L3013 1871M2751.7 1706.7L3019.4 1862.6M2758.2 1697.7L3025.9 1854.2M2764.7 1688.6L3032.3 1845.9M2771.1 1679.5L3038.7 1837.5M2777.6 1670.5L3045.2 1829.2M2784 1661.4L3051.6 1820.8" stroke="#585858" stroke-width="1.8" fill="none"/>
<polygon points="2629,1879 2897.3,2021.4 3051.6,1820.8 2784,1661.4" fill="none" stroke="#4a4a4a" stroke-width="3"/>
<line x1="2840.5" y1="1845.7" x2="2794.1" y2="1908.4" stroke="#2e2e2e" stroke-width="6" />
<line x1="2849.5" y1="1850.7" x2="2803.1" y2="1913.4" stroke="#8a8a8a" stroke-width="3" />
<line x1="2840.5" y1="1845.7" x2="2773.5" y2="1807.9" stroke="#555" stroke-width="4" />
<line x1="2840.5" y1="1845.7" x2="2914.1" y2="1887.2" stroke="#4a4a4a" stroke-width="6" />
<line x1="2840.5" y1="1852.7" x2="2914.1" y2="1894.2" stroke="#9a9a9a" stroke-width="2.5" />
<line x1="2840.5" y1="1845.7" x2="2879.1" y2="1793.4" stroke="#666" stroke-width="3" />
<polygon points="2826.5,1843.7 2846.5,1833.7 2860.5,1841.7 2840.5,1853.7" fill="#1c1c1c" />
<polygon points="2843.5,1851.7 2849.5,1849.7 2849.5,1875.7 2843.5,1877.7" fill="#a8a8a8" />
<polygon points="2614,1873 2634,1869 2634,1876 2621,1879 2621,1894 2614,1895" fill="#7a7a7a" />
<polygon points="3068.6,1816.8 3048.6,1810.8 3048.6,1817.8 3061.6,1822.8 3061.6,1837.8 3068.6,1838.8" fill="#6a6a6a" />
<polygon points="2666.8,577.5 2823,616 2827,1376 2697,1312" fill="url(#xW1)" />
<polygon points="2851.7,599.3 2939,560.7 2939,640 2851.7,620" fill="#2b2b2b" />
<polygon points="2717.2,666.6 2823,614 2830,1390 2741,1454" fill="url(#xW2)" />
<polygon points="2850,614 3011.3,644.7 2990,1428 2851,1385" fill="url(#xW3)" />
<polygon points="2819.7,590 2828,585 2851.7,588 2851,1385 2829,1390" fill="#a2a2a2" filter="url(#spk)"/>
<polygon points="2819.7,590 2828,585 2851.7,588 2843,593" fill="#777" />
<line x1="2829" y1="600" x2="2830" y2="1385" stroke="#c8c8c8" stroke-width="3" />
<path d="M2617.5 2011L2785.7 1790M2640.8 2023L2808.9 1802.1M2664 2035.1L2832.2 1814.2M2687.2 2047.1L2855.4 1826.2M2710.5 2059.2L2878.7 1838.3M2733.8 2071.2L2901.9 1850.4M2757 2083.2L2925.2 1862.5M2780.2 2095.3L2948.4 1874.6M2803.5 2107.3L2971.7 1886.7M2826.8 2119.4L2994.9 1898.8M2850 2131.4L3018.2 1910.8M2873.2 2143.5L3041.4 1922.9M2896.5 2155.5L3064.7 1935M2617.5 2011L2896.5 2155.5M2631.5 1992.6L2910.5 2137.1M2645.5 1974.2L2924.5 2118.8M2659.6 1955.8L2938.6 2100.4M2673.6 1937.3L2952.6 2082M2687.6 1918.9L2966.6 2063.6M2701.6 1900.5L2980.6 2045.2M2715.6 1882.1L2994.6 2026.9M2729.6 1863.7L3008.6 2008.5M2743.6 1845.2L3022.6 1990.1M2757.7 1826.8L3036.7 1971.8M2771.7 1808.4L3050.7 1953.4M2785.7 1790L3064.7 1935" stroke="#3c3c3c" stroke-width="2.6" fill="none"/>
<polygon points="2617.5,2011 2896.5,2155.5 3064.7,1935 2785.7,1790" fill="none" stroke="#5a5a5a" stroke-width="9" stroke-linejoin="miter"/>
<line x1="2757" y1="2083.2" x2="2925.2" y2="1862.5" stroke="#4a4a4a" stroke-width="8" />
<line x1="2701.6" y1="1900.5" x2="2980.6" y2="2045.2" stroke="#4a4a4a" stroke-width="8" />
<polygon points="2617.5,2011 2896.5,2155.5 2896.5,2166.5 2617.5,2022" fill="#6c6c6c" />
<polygon points="2896.5,2155.5 3064.7,1935 3064.7,1946 2896.5,2166.5" fill="#9a9a9a" />
<polygon points="2444,1356 2462,1357 2486.6,1701 2470,1700" fill="#8a8a8a" />
<polygon points="2455.2,1356.6 2462,1357 2486.6,1701 2480.4,1700.6" fill="#2a2a2a" />
<polygon points="2444,1356 2452.1,1351 2462.9,1353 2462,1359 2453,1361" fill="#2a2a2a" />
<polygon points="2608,1416 2626,1417 2668.6,2069 2652,2068" fill="#8f8f8f" />
<polygon points="2619.2,1416.6 2626,1417 2668.6,2069 2662.4,2068.6" fill="#6e6e6e" />
<polygon points="2608,1416 2616.1,1411 2626.9,1413 2626,1419 2617,1421" fill="#2a2a2a" />
<line x1="2462" y1="1365.7" x2="2608.6" y2="1421.6" stroke="#6a6a6a" stroke-width="2.4" />
<line x1="2462" y1="1371.7" x2="2608.6" y2="1427.6" stroke="#6a6a6a" stroke-width="2.4" />
<line x1="2466" y1="1505" x2="2613.8" y2="1565.7" stroke="#6a6a6a" stroke-width="2.4" />
<line x1="2466" y1="1511" x2="2613.8" y2="1571.7" stroke="#6a6a6a" stroke-width="2.4" />
<line x1="2480" y1="1640" x2="2624" y2="1702" stroke="#6a6a6a" stroke-width="2.4" />
<line x1="2480" y1="1646" x2="2624" y2="1708" stroke="#6a6a6a" stroke-width="2.4" />
<line x1="2523.3" y1="1768.3" x2="2638.3" y2="1828.7" stroke="#6a6a6a" stroke-width="2.4" />
<line x1="2523.3" y1="1774.3" x2="2638.3" y2="1834.7" stroke="#6a6a6a" stroke-width="2.4" />
<line x1="2539" y1="1898.8" x2="2642" y2="1949.5" stroke="#6a6a6a" stroke-width="2.4" />
<line x1="2539" y1="1904.8" x2="2642" y2="1955.5" stroke="#6a6a6a" stroke-width="2.4" />
<polygon points="3129.9,1476 3148.9,1477 3114.1,2129.6 3096.6,2128.6" fill="#858585" />
<polygon points="3141.7,1476.6 3148.9,1477 3114.1,2129.6 3107.6,2129.2" fill="#6a6a6a" />
<polygon points="3129.9,1476 3138.5,1471 3149.8,1473 3148.9,1479 3139.4,1481" fill="#2a2a2a" />
<polygon points="3234,1373 3251,1374 3194.6,2015.3 3179,2014.3" fill="#848484" />
<polygon points="3244.5,1373.6 3251,1374 3194.6,2015.3 3188.9,2014.9" fill="#6a6a6a" />
<polygon points="3234,1373 3241.7,1368 3251.8,1370 3251,1376 3242.5,1378" fill="#2a2a2a" />
<line x1="3152" y1="1470" x2="3231" y2="1406" stroke="#8a8a8a" stroke-width="4" />
<line x1="3146" y1="1624" x2="3213" y2="1539" stroke="#8a8a8a" stroke-width="4" />
<line x1="3140" y1="1752" x2="3214" y2="1651" stroke="#8a8a8a" stroke-width="4" />
<line x1="3131" y1="1883" x2="3206" y2="1788" stroke="#8a8a8a" stroke-width="4" />
<line x1="3124" y1="2001" x2="3199" y2="1905" stroke="#8a8a8a" stroke-width="4" />
<line x1="3083" y1="1491.6" x2="3133.8" y2="1509" stroke="#666" stroke-width="2.4" />
<line x1="3083" y1="1497.6" x2="3133.8" y2="1515" stroke="#666" stroke-width="2.4" />
<line x1="3077" y1="1608.5" x2="3130" y2="1624" stroke="#666" stroke-width="2.4" />
<line x1="3077" y1="1614.5" x2="3130" y2="1630" stroke="#666" stroke-width="2.4" />
<line x1="3072" y1="1735" x2="3124" y2="1750" stroke="#666" stroke-width="2.4" />
<line x1="3072" y1="1741" x2="3124" y2="1756" stroke="#666" stroke-width="2.4" />
<line x1="3068" y1="1858" x2="3117" y2="1872" stroke="#666" stroke-width="2.4" />
<line x1="3068" y1="1864" x2="3117" y2="1878" stroke="#666" stroke-width="2.4" />
<polygon points="2373.3,1444.8 2497.2,1493.5 2558.7,2140.3 2452.8,2084.9" fill="url(#xL3)" filter="url(#spk)"/>
<line x1="2391.7" y1="1592.7" x2="2511.3" y2="1641.6" stroke="#8c8c8c" stroke-width="2" />
<line x1="2408.6" y1="1729" x2="2524.4" y2="1780" stroke="#8c8c8c" stroke-width="2" />
<line x1="2424.6" y1="1857.7" x2="2536.4" y2="1906.2" stroke="#8c8c8c" stroke-width="2" />
<line x1="2439.4" y1="1976.7" x2="2547.8" y2="2025.8" stroke="#8c8c8c" stroke-width="2" />
<polygon points="2162.9,1598.8 2291.5,1655.3 2392.3,2318.5 2284,2256" fill="#e7e7e7" />
<line x1="2190.9" y1="1750.6" x2="2314.6" y2="1807.2" stroke="#ffffff" stroke-width="3" />
<line x1="2217.2" y1="1893.2" x2="2336.3" y2="1949.8" stroke="#ffffff" stroke-width="3" />
<line x1="2241.4" y1="2024.7" x2="2356.5" y2="2083.1" stroke="#ffffff" stroke-width="3" />
<line x1="2263.9" y1="2146.9" x2="2375.2" y2="2205.8" stroke="#ffffff" stroke-width="3" />
<polygon points="3287.8,1503.3 3361.8,1431.2 3286.6,2074.8 3227.7,2158.8" fill="url(#xR3)" />
<line x1="3275.8" y1="1634.4" x2="3346.8" y2="1559.9" stroke="#9c9c9c" stroke-width="1.2" />
<line x1="3263.8" y1="1765.5" x2="3331.7" y2="1688.6" stroke="#9c9c9c" stroke-width="1.2" />
<line x1="3251.7" y1="1896.6" x2="3316.7" y2="1817.4" stroke="#9c9c9c" stroke-width="1.2" />
<line x1="3239.7" y1="2027.7" x2="3301.6" y2="1946.1" stroke="#9c9c9c" stroke-width="1.2" />
<polygon points="3574.2,1610.4 3630.7,1520.8 3508.4,2168.9 3454.6,2263" fill="#b1b1b1" />
<line x1="3548.1" y1="1752.7" x2="3601.7" y2="1674.4" stroke="#ffffff" stroke-width="3" />
<line x1="3520.6" y1="1902.8" x2="3575.2" y2="1815" stroke="#ffffff" stroke-width="3" />
<line x1="3495.3" y1="2041.1" x2="3550" y2="1948.5" stroke="#ffffff" stroke-width="3" />
<line x1="3473.7" y1="2158.6" x2="3528" y2="2065.2" stroke="#ffffff" stroke-width="3" />
<polygon points="2503,473.3 2908.8,547.2 3142.4,454.8 2736.6,380.9" fill="#ffffff" />
<polygon points="2711.4,397.9 3092.8,467.4 3123.2,455.4 2741.8,385.9" fill="#8e8e8e" />
<polygon points="2522.2,472.7 2562.8,480.1 2782.3,393.3 2741.8,385.9" fill="#a6a6a6" />
<path d="M2522.2 472.7L2741.8 385.9M2554 478.5L2773.6 391.7M2585.8 484.3L2805.3 397.5M2617.5 490.1L2837.1 403.3M2649.3 495.9L2868.9 409M2681.1 501.7L2900.7 414.8M2712.9 507.5L2932.5 420.6M2744.7 513.3L2964.3 426.4M2776.5 519.1L2996.1 432.2M2808.3 524.8L3027.9 438M2840.1 530.6L3059.6 443.8M2871.8 536.4L3091.4 449.6M2903.6 542.2L3123.2 455.4M2522.2 472.7L2903.6 542.2M2540.5 465.5L2921.9 535M2558.8 458.3L2940.2 527.7M2577.1 451L2958.5 520.5M2595.4 443.8L2976.8 513.3M2613.7 436.6L2995.1 506M2632 429.3L3013.4 498.8M2650.3 422.1L3031.7 491.5M2668.6 414.8L3050 484.3M2686.9 407.6L3068.3 477.1M2705.2 400.4L3086.6 469.8M2723.5 393.1L3104.9 462.6M2741.8 385.9L3123.2 455.4" stroke="#565656" stroke-width="3.2" fill="none"/>
<line x1="2712.9" y1="507.5" x2="2932.5" y2="420.6" stroke="#6a6a6a" stroke-width="9" />
<line x1="2632" y1="429.3" x2="3013.4" y2="498.8" stroke="#6a6a6a" stroke-width="9" />
<polygon points="2503,473.3 2908.8,547.2 2908.8,560.2 2503,485.3" fill="url(#xFrameL)" />
<polygon points="2908.8,547.2 3142.4,454.8 3142.4,466.8 2908.8,560.2" fill="#f3f3f3" />
<line x1="2503" y1="473.3" x2="2908.8" y2="547.2" stroke="#d8d8d8" stroke-width="3" />
<line x1="2908.8" y1="547.2" x2="3142.4" y2="454.8" stroke="#ffffff" stroke-width="4" />
<polygon points="2506,486 2520,488 2520,516 2514,520 2508,512" fill="#4c4c4c" />
<polygon points="2510,488 2516,489 2516,510 2511,508" fill="#c0c0c0" />
<polygon points="2694,521 2708,523 2708,551 2702,555 2696,547" fill="#4c4c4c" />
<polygon points="2698,523 2704,524 2704,545 2699,543" fill="#c0c0c0" />
<polygon points="2896,561 2910,563 2910,591 2904,595 2898,587" fill="#4c4c4c" />
<polygon points="2900,563 2906,564 2906,585 2901,583" fill="#c0c0c0" />
<polygon points="3020,515 3034,517 3034,545 3028,549 3022,541" fill="#4c4c4c" />
<polygon points="3024,517 3030,518 3030,539 3025,537" fill="#c0c0c0" />
<polygon points="3127,468 3141,470 3141,498 3135,502 3129,494" fill="#4c4c4c" />
<polygon points="3131,470 3137,471 3137,492 3132,490" fill="#c0c0c0" />
<polygon points="2521.3,385.9 2772.7,302.9 3130.7,352.3 2917.2,446.4" fill="url(#xGlass)" />
<line x1="2521.3" y1="385.9" x2="2917.2" y2="446.4" stroke="#8a8a8a" stroke-width="1.5" />
<ellipse cx="2636" cy="2103" rx="13" ry="16" fill="#9a9a9a"/>
<ellipse cx="2635" cy="2098" rx="8" ry="7" fill="#7a7a7a"/>
<line x1="2634" y1="2089" x2="2634" y2="2081" stroke="#888" stroke-width="3" />
<ellipse cx="2897" cy="2238" rx="13" ry="16" fill="#9a9a9a"/>
<ellipse cx="2896" cy="2233" rx="8" ry="7" fill="#7a7a7a"/>
<line x1="2895" y1="2224" x2="2895" y2="2216" stroke="#888" stroke-width="3" />
<ellipse cx="3055" cy="2031" rx="13" ry="16" fill="#9a9a9a"/>
<ellipse cx="3054" cy="2026" rx="8" ry="7" fill="#7a7a7a"/>
<line x1="3053" y1="2017" x2="3053" y2="2009" stroke="#888" stroke-width="3" />
</g>
<g id="txt">
<text x="568" y="211" font-size="58" font-weight="bold" fill="#000" textLength="583" lengthAdjust="spacingAndGlyphs">Challenges Overcame</text>
<text x="192" y="286" font-size="58" fill="#000" textLength="1074" lengthAdjust="spacingAndGlyphs">&gt; Engineering a rack that is completely KD.</text>
<text x="192" y="362" font-size="58" fill="#000" textLength="1238" lengthAdjust="spacingAndGlyphs">&gt; A rack that can be put up by two people without</text>
<text x="191" y="436" font-size="58" fill="#000" textLength="391" lengthAdjust="spacingAndGlyphs">much hardware.</text>
<text x="197.5" y="614.5" font-size="106.5" fill="#0662a2" textLength="584" lengthAdjust="spacingAndGlyphs">Final Product</text>
<text x="2028.5" y="185" font-size="36.5" fill="#d2232a" textLength="739.5" lengthAdjust="spacingAndGlyphs">Every part can come apart so unit can go KD and</text>
<text x="2028.5" y="231" font-size="36.5" fill="#d2232a" textLength="490.5" lengthAdjust="spacingAndGlyphs">be assembled by store personnel.</text>
<text x="1254" y="1701.5" font-size="36.5" fill="#d2232a" textLength="221" lengthAdjust="spacingAndGlyphs">Wire grid shirt</text>
<text x="1251.5" y="1746" font-size="36.5" fill="#d2232a" textLength="66" lengthAdjust="spacingAndGlyphs">rack</text>
<text x="1261" y="1886" font-size="36.5" fill="#d2232a" textLength="397" lengthAdjust="spacingAndGlyphs">Graphic per every 2 stacks</text>
</g>
</svg>
</body></html>
